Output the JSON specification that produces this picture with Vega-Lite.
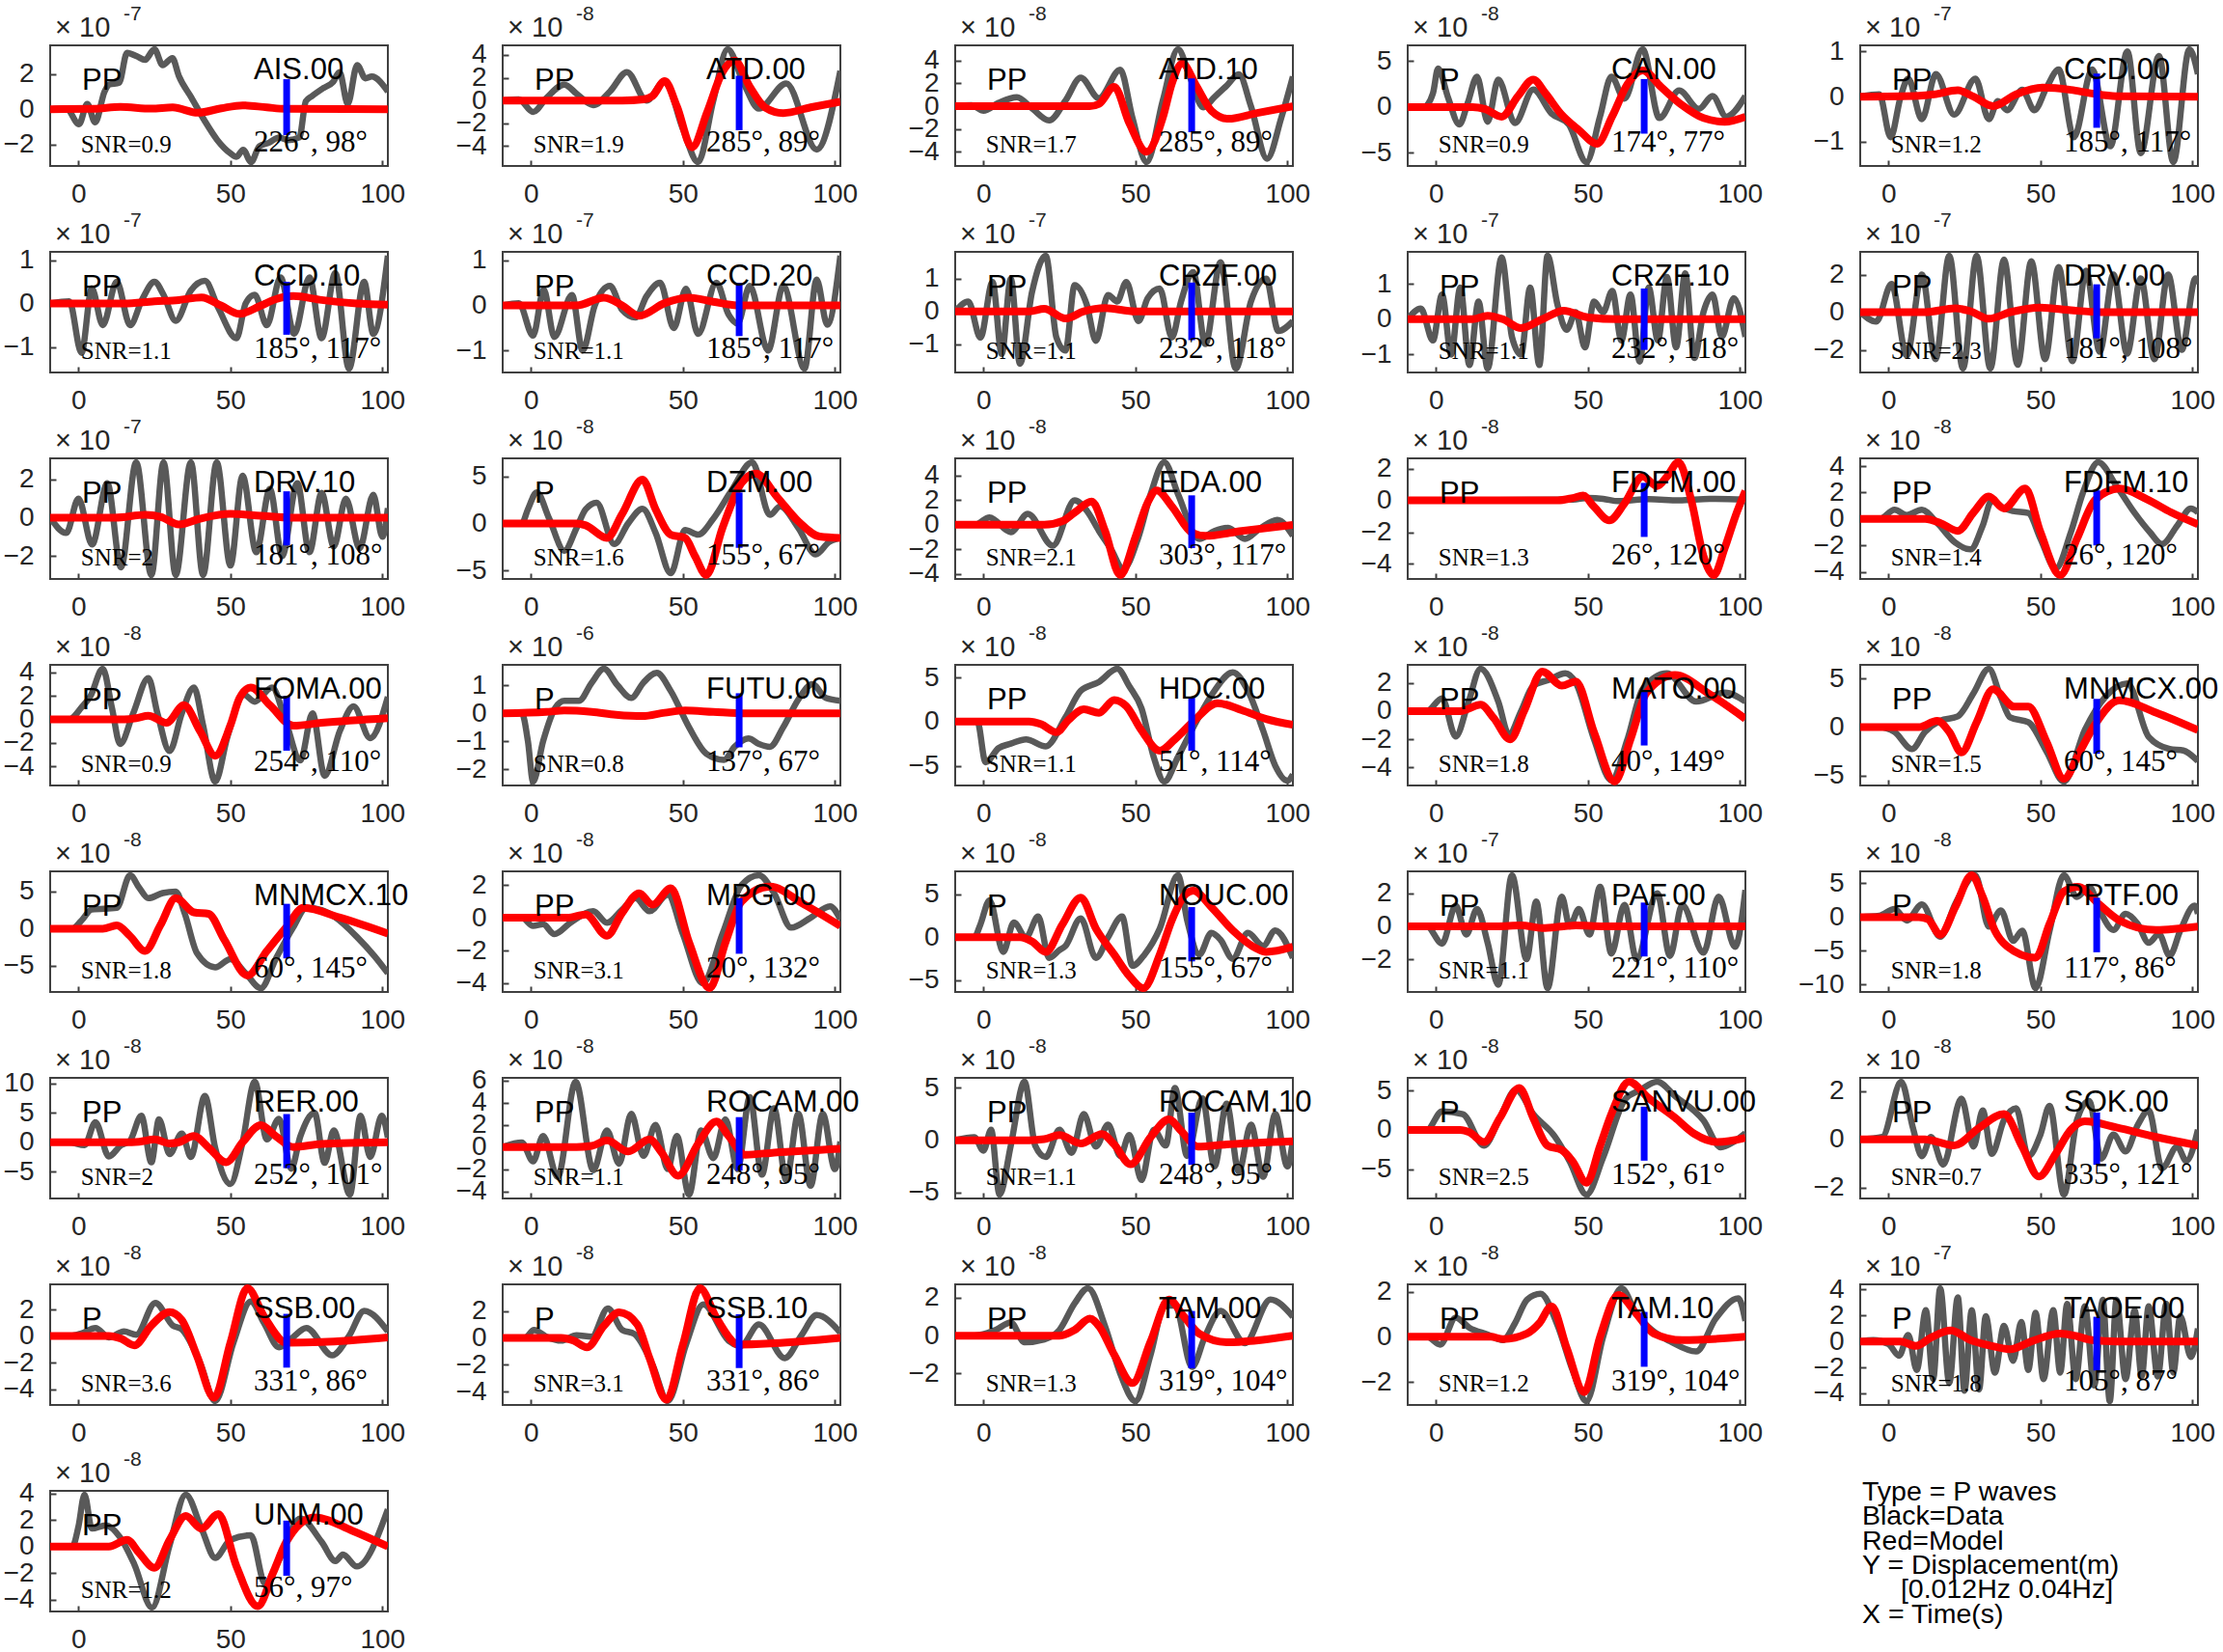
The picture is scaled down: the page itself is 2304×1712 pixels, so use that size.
{
"$schema": "https://vega.github.io/schema/vega-lite/v6.json",
"padding": {"left": 2, "top": 3, "right": 0, "bottom": 0},
"datasets": {"all": [
{"s":"AIS.00","ph":"PP","snr":"SNR=0.9","ang":"226°, 98°","e":"-7","lo":-1.47,"hi":1.7},
{"s":"AIS.00","t":-9.3,"d":0},{"s":"AIS.00","t":-4,"d":0.05},{"s":"AIS.00","t":0.2,"d":-0.85},{"s":"AIS.00","t":2.9,"d":0.3},{"s":"AIS.00","t":5.5,"d":-0.75},{"s":"AIS.00","t":8.6,"d":1.0},{"s":"AIS.00","t":10.2,"d":1.4},{"s":"AIS.00","t":13.4,"d":1.5},{"s":"AIS.00","t":16,"d":3.2},{"s":"AIS.00","t":19.2,"d":3.0},{"s":"AIS.00","t":21.9,"d":2.8},{"s":"AIS.00","t":25,"d":3.4},{"s":"AIS.00","t":27.7,"d":2.5},{"s":"AIS.00","t":30.9,"d":2.9},{"s":"AIS.00","t":33,"d":1.9},{"s":"AIS.00","t":37.2,"d":0.65},{"s":"AIS.00","t":41.5,"d":-0.65},{"s":"AIS.00","t":45.7,"d":-1.75},{"s":"AIS.00","t":50,"d":-2.5},{"s":"AIS.00","t":52,"d":-2.7},{"s":"AIS.00","t":54.2,"d":-2.3},{"s":"AIS.00","t":56.8,"d":-3.0},{"s":"AIS.00","t":59.5,"d":-2.1},{"s":"AIS.00","t":62.7,"d":-1.9},{"s":"AIS.00","t":66,"d":-1.6},{"s":"AIS.00","t":69,"d":-1.75},{"s":"AIS.00","t":72.7,"d":-1.6},{"s":"AIS.00","t":74.8,"d":0.45},{"s":"AIS.00","t":76.9,"d":0.75},{"s":"AIS.00","t":80.6,"d":1.2},{"s":"AIS.00","t":83.8,"d":1.55},{"s":"AIS.00","t":85.9,"d":2.1},{"s":"AIS.00","t":88.6,"d":0.3},{"s":"AIS.00","t":91.7,"d":2.5},{"s":"AIS.00","t":94.4,"d":1.75},{"s":"AIS.00","t":96.5,"d":1.85},{"s":"AIS.00","t":101.8,"d":1.0},
{"s":"AIS.00","t":-9.3,"m":0},{"s":"AIS.00","t":5,"m":0.02},{"s":"AIS.00","t":13.8,"m":0.13},{"s":"AIS.00","t":24,"m":0.03},{"s":"AIS.00","t":31,"m":0.1},{"s":"AIS.00","t":39.3,"m":-0.2},{"s":"AIS.00","t":47,"m":0.05},{"s":"AIS.00","t":54,"m":0.22},{"s":"AIS.00","t":62,"m":0.1},{"s":"AIS.00","t":68,"m":0.02},{"s":"AIS.00","t":101.8,"m":0},

{"s":"ATD.00","ph":"PP","snr":"SNR=1.9","ang":"285°, 89°","e":"-8","lo":-2.6,"hi":2.17},
{"s":"ATD.00","t":-9.3,"d":0},{"s":"ATD.00","t":-4,"d":0.1},{"s":"ATD.00","t":0.7,"d":-1.0},{"s":"ATD.00","t":5,"d":0.2},{"s":"ATD.00","t":11,"d":1.4},{"s":"ATD.00","t":15,"d":0.6},{"s":"ATD.00","t":20.5,"d":-0.4},{"s":"ATD.00","t":26,"d":0.8},{"s":"ATD.00","t":31.6,"d":2.5},{"s":"ATD.00","t":38,"d":0},{"s":"ATD.00","t":44,"d":1.7},{"s":"ATD.00","t":50,"d":-2.5},{"s":"ATD.00","t":55,"d":-5.4},{"s":"ATD.00","t":60,"d":0},{"s":"ATD.00","t":64.7,"d":4.5},{"s":"ATD.00","t":70,"d":1.5},{"s":"ATD.00","t":75,"d":-0.7},{"s":"ATD.00","t":84,"d":1.5},{"s":"ATD.00","t":94,"d":-4.3},{"s":"ATD.00","t":101.8,"d":2.6},
{"s":"ATD.00","t":-9.3,"m":0},{"s":"ATD.00","t":30,"m":0},{"s":"ATD.00","t":37,"m":0.1},{"s":"ATD.00","t":40,"m":0.4},{"s":"ATD.00","t":44,"m":1.7},{"s":"ATD.00","t":48,"m":-0.5},{"s":"ATD.00","t":53,"m":-4.1},{"s":"ATD.00","t":58,"m":-1.0},{"s":"ATD.00","t":63,"m":2.5},{"s":"ATD.00","t":67,"m":3.5},{"s":"ATD.00","t":72,"m":1.2},{"s":"ATD.00","t":77,"m":-0.6},{"s":"ATD.00","t":83,"m":-1.1},{"s":"ATD.00","t":92,"m":-0.6},{"s":"ATD.00","t":101.8,"m":-0.1},

{"s":"ATD.10","ph":"PP","snr":"SNR=1.7","ang":"285°, 89°","e":"-8","lo":-2.28,"hi":2.44},
{"s":"ATD.10","t":-9.3,"d":0},{"s":"ATD.10","t":-4,"d":0.1},{"s":"ATD.10","t":0,"d":-0.4},{"s":"ATD.10","t":5,"d":0.3},{"s":"ATD.10","t":11,"d":0.8},{"s":"ATD.10","t":16,"d":-0.2},{"s":"ATD.10","t":21.6,"d":-1.25},{"s":"ATD.10","t":27,"d":0.5},{"s":"ATD.10","t":32,"d":2.5},{"s":"ATD.10","t":38,"d":0.7},{"s":"ATD.10","t":45,"d":3.2},{"s":"ATD.10","t":49,"d":-1.0},{"s":"ATD.10","t":53.7,"d":-4.9},{"s":"ATD.10","t":59,"d":0.5},{"s":"ATD.10","t":64,"d":5.0},{"s":"ATD.10","t":68,"d":2.5},{"s":"ATD.10","t":72.3,"d":-0.1},{"s":"ATD.10","t":76,"d":0.8},{"s":"ATD.10","t":80,"d":1.8},{"s":"ATD.10","t":84,"d":2.8},{"s":"ATD.10","t":88,"d":0},{"s":"ATD.10","t":93.3,"d":-4.6},{"s":"ATD.10","t":98,"d":-1.0},{"s":"ATD.10","t":101.8,"d":2.6},
{"s":"ATD.10","t":-9.3,"m":0},{"s":"ATD.10","t":35,"m":0},{"s":"ATD.10","t":38,"m":0.2},{"s":"ATD.10","t":43,"m":1.7},{"s":"ATD.10","t":48,"m":-1.5},{"s":"ATD.10","t":53.7,"m":-4.0},{"s":"ATD.10","t":59,"m":-1.0},{"s":"ATD.10","t":62,"m":2.0},{"s":"ATD.10","t":65.4,"m":3.75},{"s":"ATD.10","t":70,"m":1.8},{"s":"ATD.10","t":75,"m":-0.4},{"s":"ATD.10","t":80.5,"m":-1.1},{"s":"ATD.10","t":90,"m":-0.6},{"s":"ATD.10","t":101.8,"m":0},

{"s":"CAN.00","ph":"P","snr":"SNR=0.9","ang":"174°, 77°","e":"-8","lo":-2.9,"hi":3.05},
{"s":"CAN.00","t":-9.3,"d":0},{"s":"CAN.00","t":-4,"d":0},{"s":"CAN.00","t":-1,"d":1.5},{"s":"CAN.00","t":0.7,"d":4.2},{"s":"CAN.00","t":4,"d":1.0},{"s":"CAN.00","t":7.7,"d":-1.9},{"s":"CAN.00","t":10.5,"d":0.5},{"s":"CAN.00","t":13.5,"d":3.3},{"s":"CAN.00","t":17,"d":-1.6},{"s":"CAN.00","t":20.5,"d":3.0},{"s":"CAN.00","t":26,"d":-1.75},{"s":"CAN.00","t":32,"d":1.9},{"s":"CAN.00","t":38,"d":-0.7},{"s":"CAN.00","t":43.7,"d":-1.9},{"s":"CAN.00","t":49.5,"d":-6.0},{"s":"CAN.00","t":54,"d":-1.0},{"s":"CAN.00","t":57.7,"d":3.3},{"s":"CAN.00","t":62,"d":0.9},{"s":"CAN.00","t":68,"d":6.3},{"s":"CAN.00","t":73.5,"d":-1.2},{"s":"CAN.00","t":80,"d":1.8},{"s":"CAN.00","t":86.5,"d":-0.2},{"s":"CAN.00","t":91,"d":1.2},{"s":"CAN.00","t":95.5,"d":-1.05},{"s":"CAN.00","t":101.8,"d":1.2},
{"s":"CAN.00","t":-9.3,"m":0},{"s":"CAN.00","t":12,"m":0},{"s":"CAN.00","t":16,"m":-0.2},{"s":"CAN.00","t":21.6,"m":-1.05},{"s":"CAN.00","t":27,"m":1.2},{"s":"CAN.00","t":32,"m":3.0},{"s":"CAN.00","t":36,"m":1.5},{"s":"CAN.00","t":41,"m":-0.7},{"s":"CAN.00","t":47,"m":-2.5},{"s":"CAN.00","t":53,"m":-4.0},{"s":"CAN.00","t":58,"m":-1.0},{"s":"CAN.00","t":63,"m":2.5},{"s":"CAN.00","t":68,"m":4.0},{"s":"CAN.00","t":74,"m":2.2},{"s":"CAN.00","t":81,"m":0.2},{"s":"CAN.00","t":88,"m":-1.2},{"s":"CAN.00","t":95,"m":-1.6},{"s":"CAN.00","t":101.8,"m":-1.05},

{"s":"CCD.00","ph":"PP","snr":"SNR=1.2","ang":"185°, 117°","e":"-7","lo":-0.69,"hi":0.51},
{"s":"CCD.00","t":-9.3,"d":0},{"s":"CCD.00","t":-3,"d":0.05},{"s":"CCD.00","t":0.7,"d":-0.9},{"s":"CCD.00","t":4,"d":0},{"s":"CCD.00","t":6.5,"d":0.4},{"s":"CCD.00","t":11,"d":-0.5},{"s":"CCD.00","t":15.6,"d":0.5},{"s":"CCD.00","t":21.6,"d":-0.4},{"s":"CCD.00","t":28.6,"d":0.4},{"s":"CCD.00","t":33,"d":-0.5},{"s":"CCD.00","t":36,"d":-0.1},{"s":"CCD.00","t":39,"d":-0.3},{"s":"CCD.00","t":44,"d":0.15},{"s":"CCD.00","t":48,"d":-0.3},{"s":"CCD.00","t":52,"d":0.2},{"s":"CCD.00","t":56,"d":0.6},{"s":"CCD.00","t":61,"d":-0.9},{"s":"CCD.00","t":67,"d":0.6},{"s":"CCD.00","t":73,"d":-1.1},{"s":"CCD.00","t":78.6,"d":1.0},{"s":"CCD.00","t":83,"d":-1.25},{"s":"CCD.00","t":89,"d":0.9},{"s":"CCD.00","t":93.7,"d":-1.45},{"s":"CCD.00","t":99,"d":1.05},{"s":"CCD.00","t":101.8,"d":0.5},
{"s":"CCD.00","t":-9.3,"m":0},{"s":"CCD.00","t":10,"m":0.02},{"s":"CCD.00","t":15,"m":0.05},{"s":"CCD.00","t":22.8,"m":0.14},{"s":"CCD.00","t":28,"m":0},{"s":"CCD.00","t":34.4,"m":-0.21},{"s":"CCD.00","t":42,"m":0.05},{"s":"CCD.00","t":50.7,"m":0.2},{"s":"CCD.00","t":60,"m":0.15},{"s":"CCD.00","t":67,"m":0.07},{"s":"CCD.00","t":75,"m":0.01},{"s":"CCD.00","t":101.8,"m":0},

{"s":"CCD.10","ph":"PP","snr":"SNR=1.1","ang":"185°, 117°","e":"-7","lo":-0.72,"hi":0.5},
{"s":"CCD.10","t":-9.3,"d":0},{"s":"CCD.10","t":-3,"d":0.05},{"s":"CCD.10","t":1,"d":-1.14},{"s":"CCD.10","t":4.4,"d":0.35},{"s":"CCD.10","t":8,"d":-0.5},{"s":"CCD.10","t":12.6,"d":0.5},{"s":"CCD.10","t":17,"d":-0.5},{"s":"CCD.10","t":21,"d":0.1},{"s":"CCD.10","t":25,"d":0.5},{"s":"CCD.10","t":28,"d":0.2},{"s":"CCD.10","t":32,"d":-0.4},{"s":"CCD.10","t":37,"d":0.3},{"s":"CCD.10","t":41.6,"d":0.52},{"s":"CCD.10","t":46,"d":-0.1},{"s":"CCD.10","t":52,"d":-0.8},{"s":"CCD.10","t":55,"d":0},{"s":"CCD.10","t":58,"d":0.2},{"s":"CCD.10","t":62,"d":-0.5},{"s":"CCD.10","t":66.5,"d":0.6},{"s":"CCD.10","t":71,"d":-0.7},{"s":"CCD.10","t":76,"d":0.6},{"s":"CCD.10","t":80,"d":-0.8},{"s":"CCD.10","t":84.5,"d":0.7},{"s":"CCD.10","t":89,"d":-1.5},{"s":"CCD.10","t":94,"d":0.5},{"s":"CCD.10","t":97,"d":-0.7},{"s":"CCD.10","t":101.8,"d":1.1},
{"s":"CCD.10","t":-9.3,"m":0},{"s":"CCD.10","t":15,"m":0},{"s":"CCD.10","t":25,"m":0.05},{"s":"CCD.10","t":33,"m":0.08},{"s":"CCD.10","t":40.5,"m":0.14},{"s":"CCD.10","t":47,"m":-0.05},{"s":"CCD.10","t":53,"m":-0.24},{"s":"CCD.10","t":60,"m":-0.05},{"s":"CCD.10","t":65,"m":0.1},{"s":"CCD.10","t":70.7,"m":0.17},{"s":"CCD.10","t":80,"m":0.08},{"s":"CCD.10","t":91.6,"m":0},{"s":"CCD.10","t":101.8,"m":-0.03},

{"s":"CCD.20","ph":"PP","snr":"SNR=1.1","ang":"185°, 117°","e":"-7","lo":-0.68,"hi":0.5},
{"s":"CCD.20","t":-9.3,"d":0},{"s":"CCD.20","t":-4,"d":0.05},{"s":"CCD.20","t":0.7,"d":-0.67},{"s":"CCD.20","t":4.2,"d":0.35},{"s":"CCD.20","t":7.7,"d":-0.7},{"s":"CCD.20","t":13.5,"d":0.23},{"s":"CCD.20","t":17,"d":-1.0},{"s":"CCD.20","t":21,"d":0},{"s":"CCD.20","t":26,"d":0.43},{"s":"CCD.20","t":30,"d":-0.1},{"s":"CCD.20","t":34.4,"d":-0.27},{"s":"CCD.20","t":38,"d":0.2},{"s":"CCD.20","t":42.5,"d":0.5},{"s":"CCD.20","t":47,"d":-0.5},{"s":"CCD.20","t":51,"d":0.37},{"s":"CCD.20","t":55,"d":-0.63},{"s":"CCD.20","t":61,"d":0.5},{"s":"CCD.20","t":65,"d":-0.2},{"s":"CCD.20","t":68,"d":-0.4},{"s":"CCD.20","t":72,"d":0.43},{"s":"CCD.20","t":78,"d":-1.0},{"s":"CCD.20","t":83,"d":0.43},{"s":"CCD.20","t":90,"d":-1.4},{"s":"CCD.20","t":94,"d":0.57},{"s":"CCD.20","t":97.5,"d":-0.43},{"s":"CCD.20","t":101.8,"d":1.1},
{"s":"CCD.20","t":-9.3,"m":0},{"s":"CCD.20","t":15,"m":0},{"s":"CCD.20","t":24,"m":0.17},{"s":"CCD.20","t":30,"m":0},{"s":"CCD.20","t":35.6,"m":-0.23},{"s":"CCD.20","t":44,"m":0.05},{"s":"CCD.20","t":52,"m":0.17},{"s":"CCD.20","t":60,"m":0.08},{"s":"CCD.20","t":68,"m":0},{"s":"CCD.20","t":101.8,"m":0},

{"s":"CRZF.00","ph":"PP","snr":"SNR=1.1","ang":"232°, 118°","e":"-7","lo":-0.88,"hi":0.88},
{"s":"CRZF.00","t":-9.3,"d":0},{"s":"CRZF.00","t":-5,"d":0.3},{"s":"CRZF.00","t":-1,"d":-0.8},{"s":"CRZF.00","t":3,"d":0.9},{"s":"CRZF.00","t":6,"d":-1.3},{"s":"CRZF.00","t":9,"d":1.0},{"s":"CRZF.00","t":12,"d":-1.6},{"s":"CRZF.00","t":16,"d":0.6},{"s":"CRZF.00","t":20.5,"d":1.7},{"s":"CRZF.00","t":24,"d":-0.8},{"s":"CRZF.00","t":27,"d":-1.2},{"s":"CRZF.00","t":30,"d":0.8},{"s":"CRZF.00","t":34,"d":0.2},{"s":"CRZF.00","t":37,"d":-0.9},{"s":"CRZF.00","t":41,"d":0.5},{"s":"CRZF.00","t":44,"d":0.3},{"s":"CRZF.00","t":47,"d":0.9},{"s":"CRZF.00","t":51,"d":-0.3},{"s":"CRZF.00","t":54,"d":0.4},{"s":"CRZF.00","t":58,"d":0.7},{"s":"CRZF.00","t":62,"d":-0.8},{"s":"CRZF.00","t":65,"d":0.3},{"s":"CRZF.00","t":69,"d":1.2},{"s":"CRZF.00","t":73,"d":-1.0},{"s":"CRZF.00","t":78,"d":1.5},{"s":"CRZF.00","t":83,"d":-1.75},{"s":"CRZF.00","t":88,"d":0.3},{"s":"CRZF.00","t":93,"d":1.0},{"s":"CRZF.00","t":97,"d":-0.6},{"s":"CRZF.00","t":101.8,"d":-0.3},
{"s":"CRZF.00","t":-9.3,"m":0},{"s":"CRZF.00","t":15,"m":0},{"s":"CRZF.00","t":20,"m":0.08},{"s":"CRZF.00","t":27,"m":-0.22},{"s":"CRZF.00","t":33,"m":0},{"s":"CRZF.00","t":40,"m":0.1},{"s":"CRZF.00","t":50,"m":0},{"s":"CRZF.00","t":101.8,"m":0},

{"s":"CRZF.10","ph":"PP","snr":"SNR=1.1","ang":"232°, 118°","e":"-7","lo":-0.87,"hi":0.87},
{"s":"CRZF.10","t":-9.3,"d":0},{"s":"CRZF.10","t":-5,"d":0.3},{"s":"CRZF.10","t":-1,"d":-0.6},{"s":"CRZF.10","t":2,"d":0.7},{"s":"CRZF.10","t":5,"d":-1.0},{"s":"CRZF.10","t":8,"d":0.9},{"s":"CRZF.10","t":11,"d":-1.3},{"s":"CRZF.10","t":14,"d":0.5},{"s":"CRZF.10","t":17,"d":-1.4},{"s":"CRZF.10","t":21.6,"d":1.75},{"s":"CRZF.10","t":25,"d":-0.5},{"s":"CRZF.10","t":28,"d":-1.0},{"s":"CRZF.10","t":31,"d":0.9},{"s":"CRZF.10","t":34,"d":-1.3},{"s":"CRZF.10","t":36.7,"d":1.8},{"s":"CRZF.10","t":40,"d":0.4},{"s":"CRZF.10","t":43,"d":-0.3},{"s":"CRZF.10","t":46,"d":0.2},{"s":"CRZF.10","t":49,"d":-0.8},{"s":"CRZF.10","t":52,"d":0.5},{"s":"CRZF.10","t":55,"d":0.2},{"s":"CRZF.10","t":58,"d":0.8},{"s":"CRZF.10","t":61,"d":-0.6},{"s":"CRZF.10","t":64,"d":0.7},{"s":"CRZF.10","t":67,"d":-1.2},{"s":"CRZF.10","t":70,"d":0.9},{"s":"CRZF.10","t":73,"d":-0.6},{"s":"CRZF.10","t":76,"d":1.2},{"s":"CRZF.10","t":79,"d":-0.8},{"s":"CRZF.10","t":82,"d":1.3},{"s":"CRZF.10","t":85,"d":-1.1},{"s":"CRZF.10","t":88,"d":0.2},{"s":"CRZF.10","t":91,"d":0.7},{"s":"CRZF.10","t":94,"d":-0.5},{"s":"CRZF.10","t":98,"d":0.6},{"s":"CRZF.10","t":101.8,"d":-0.5},
{"s":"CRZF.10","t":-9.3,"m":0},{"s":"CRZF.10","t":12,"m":0},{"s":"CRZF.10","t":17,"m":0.1},{"s":"CRZF.10","t":22,"m":0},{"s":"CRZF.10","t":28,"m":-0.25},{"s":"CRZF.10","t":35,"m":0},{"s":"CRZF.10","t":42,"m":0.24},{"s":"CRZF.10","t":50,"m":0.05},{"s":"CRZF.10","t":60,"m":0},{"s":"CRZF.10","t":101.8,"m":0},

{"s":"DRV.00","ph":"PP","snr":"SNR=2.3","ang":"181°, 108°","e":"-7","lo":-1.39,"hi":1.48},
{"s":"DRV.00","t":-9.3,"d":0},{"s":"DRV.00","t":-4,"d":-0.5},{"s":"DRV.00","t":1,"d":1.5},{"s":"DRV.00","t":6,"d":-2.3},{"s":"DRV.00","t":11,"d":2.0},{"s":"DRV.00","t":15.5,"d":-2.5},{"s":"DRV.00","t":20,"d":3.0},{"s":"DRV.00","t":24.5,"d":-3.0},{"s":"DRV.00","t":29,"d":3.0},{"s":"DRV.00","t":33.5,"d":-3.0},{"s":"DRV.00","t":38,"d":2.8},{"s":"DRV.00","t":42.5,"d":-2.8},{"s":"DRV.00","t":47,"d":2.7},{"s":"DRV.00","t":51.5,"d":-2.5},{"s":"DRV.00","t":56,"d":2.4},{"s":"DRV.00","t":60.5,"d":-2.6},{"s":"DRV.00","t":65,"d":2.2},{"s":"DRV.00","t":69.5,"d":-2.1},{"s":"DRV.00","t":74,"d":2.0},{"s":"DRV.00","t":78.5,"d":-2.2},{"s":"DRV.00","t":83,"d":1.8},{"s":"DRV.00","t":87.5,"d":-2.5},{"s":"DRV.00","t":92,"d":2.0},{"s":"DRV.00","t":96.5,"d":-2.0},{"s":"DRV.00","t":101,"d":1.8},{"s":"DRV.00","t":101.8,"d":1.5},
{"s":"DRV.00","t":-9.3,"m":0},{"s":"DRV.00","t":12,"m":0},{"s":"DRV.00","t":22,"m":0.2},{"s":"DRV.00","t":27,"m":0.05},{"s":"DRV.00","t":33,"m":-0.35},{"s":"DRV.00","t":40,"m":0},{"s":"DRV.00","t":50,"m":0.25},{"s":"DRV.00","t":60,"m":0.1},{"s":"DRV.00","t":70,"m":0},{"s":"DRV.00","t":101.8,"m":0},

{"s":"DRV.10","ph":"PP","snr":"SNR=2","ang":"181°, 108°","e":"-7","lo":-1.45,"hi":1.38},
{"s":"DRV.10","t":-9.3,"d":0},{"s":"DRV.10","t":-4,"d":-0.8},{"s":"DRV.10","t":0,"d":1.0},{"s":"DRV.10","t":4.5,"d":-1.4},{"s":"DRV.10","t":9.5,"d":1.8},{"s":"DRV.10","t":14,"d":-2.6},{"s":"DRV.10","t":19,"d":2.9},{"s":"DRV.10","t":24,"d":-3.0},{"s":"DRV.10","t":28,"d":2.9},{"s":"DRV.10","t":32,"d":-3.0},{"s":"DRV.10","t":37,"d":2.9},{"s":"DRV.10","t":41,"d":-3.0},{"s":"DRV.10","t":45.5,"d":2.9},{"s":"DRV.10","t":50,"d":-2.5},{"s":"DRV.10","t":54,"d":2.2},{"s":"DRV.10","t":58.5,"d":-1.8},{"s":"DRV.10","t":63,"d":1.5},{"s":"DRV.10","t":67,"d":-2.0},{"s":"DRV.10","t":72,"d":1.8},{"s":"DRV.10","t":76,"d":-1.8},{"s":"DRV.10","t":80,"d":1.3},{"s":"DRV.10","t":84,"d":-1.5},{"s":"DRV.10","t":88,"d":1.0},{"s":"DRV.10","t":92.5,"d":-1.6},{"s":"DRV.10","t":97,"d":1.2},{"s":"DRV.10","t":100,"d":-1.0},{"s":"DRV.10","t":101.8,"d":0.5},
{"s":"DRV.10","t":-9.3,"m":0},{"s":"DRV.10","t":12,"m":0},{"s":"DRV.10","t":22,"m":0.15},{"s":"DRV.10","t":27,"m":0.05},{"s":"DRV.10","t":33,"m":-0.35},{"s":"DRV.10","t":40,"m":-0.05},{"s":"DRV.10","t":50,"m":0.2},{"s":"DRV.10","t":60,"m":0.1},{"s":"DRV.10","t":70,"m":0},{"s":"DRV.10","t":101.8,"m":0},

{"s":"DZM.00","ph":"P","snr":"SNR=1.6","ang":"155°, 67°","e":"-8","lo":-2.6,"hi":3.28},
{"s":"DZM.00","t":-9.3,"d":0},{"s":"DZM.00","t":-3,"d":0},{"s":"DZM.00","t":-1,"d":1.5},{"s":"DZM.00","t":1.9,"d":3.3},{"s":"DZM.00","t":6,"d":0.5},{"s":"DZM.00","t":11,"d":-2.9},{"s":"DZM.00","t":15,"d":-0.5},{"s":"DZM.00","t":18,"d":1.5},{"s":"DZM.00","t":21.6,"d":2.2},{"s":"DZM.00","t":27.4,"d":-2.2},{"s":"DZM.00","t":32,"d":0},{"s":"DZM.00","t":36.7,"d":1.55},{"s":"DZM.00","t":41,"d":-1.0},{"s":"DZM.00","t":46,"d":-5.3},{"s":"DZM.00","t":50.7,"d":-0.7},{"s":"DZM.00","t":55,"d":-1.2},{"s":"DZM.00","t":60,"d":0.5},{"s":"DZM.00","t":66,"d":3.5},{"s":"DZM.00","t":72.8,"d":6.5},{"s":"DZM.00","t":78.6,"d":0.9},{"s":"DZM.00","t":82,"d":1.8},{"s":"DZM.00","t":88,"d":-0.5},{"s":"DZM.00","t":93.7,"d":-3.3},{"s":"DZM.00","t":98,"d":-2.0},{"s":"DZM.00","t":101.8,"d":-1.5},
{"s":"DZM.00","t":-9.3,"m":0},{"s":"DZM.00","t":15,"m":0},{"s":"DZM.00","t":18,"m":-0.2},{"s":"DZM.00","t":25,"m":-1.55},{"s":"DZM.00","t":30,"m":1.0},{"s":"DZM.00","t":36.7,"m":4.65},{"s":"DZM.00","t":41,"m":1.5},{"s":"DZM.00","t":46,"m":-1.2},{"s":"DZM.00","t":50.7,"m":-1.55},{"s":"DZM.00","t":54,"m":-3.5},{"s":"DZM.00","t":57.7,"m":-5.5},{"s":"DZM.00","t":63,"m":-0.5},{"s":"DZM.00","t":69.3,"m":4.3},{"s":"DZM.00","t":74,"m":5.3},{"s":"DZM.00","t":81,"m":2.8},{"s":"DZM.00","t":88,"m":0.2},{"s":"DZM.00","t":95,"m":-1.4},{"s":"DZM.00","t":101.8,"m":-1.55},

{"s":"EDA.00","ph":"PP","snr":"SNR=2.1","ang":"303°, 117°","e":"-8","lo":-1.9,"hi":2.4},
{"s":"EDA.00","t":-9.3,"d":0},{"s":"EDA.00","t":-3,"d":0},{"s":"EDA.00","t":2,"d":0.6},{"s":"EDA.00","t":9,"d":-0.6},{"s":"EDA.00","t":14.6,"d":0.9},{"s":"EDA.00","t":22.8,"d":-1.7},{"s":"EDA.00","t":30,"d":2.0},{"s":"EDA.00","t":34,"d":1.15},{"s":"EDA.00","t":38,"d":-0.5},{"s":"EDA.00","t":42,"d":-2.0},{"s":"EDA.00","t":46,"d":-3.6},{"s":"EDA.00","t":51,"d":-1.0},{"s":"EDA.00","t":55,"d":2.5},{"s":"EDA.00","t":59.5,"d":5.1},{"s":"EDA.00","t":64,"d":2.5},{"s":"EDA.00","t":71,"d":-1.15},{"s":"EDA.00","t":76,"d":-0.5},{"s":"EDA.00","t":80.5,"d":-0.25},{"s":"EDA.00","t":86,"d":-1.15},{"s":"EDA.00","t":91,"d":-0.3},{"s":"EDA.00","t":96.7,"d":0.4},{"s":"EDA.00","t":101.8,"d":-0.9},
{"s":"EDA.00","t":-9.3,"m":0},{"s":"EDA.00","t":20,"m":0},{"s":"EDA.00","t":26,"m":0.3},{"s":"EDA.00","t":30,"m":1.0},{"s":"EDA.00","t":35.6,"m":1.9},{"s":"EDA.00","t":40,"m":-0.5},{"s":"EDA.00","t":45,"m":-4.1},{"s":"EDA.00","t":50,"m":-1.0},{"s":"EDA.00","t":54,"m":1.8},{"s":"EDA.00","t":57,"m":2.8},{"s":"EDA.00","t":62,"m":1.5},{"s":"EDA.00","t":68.6,"m":-0.65},{"s":"EDA.00","t":73,"m":-0.9},{"s":"EDA.00","t":85,"m":-0.5},{"s":"EDA.00","t":101.8,"m":0},

{"s":"FDFM.00","ph":"PP","snr":"SNR=1.3","ang":"26°, 120°","e":"-8","lo":-2.3,"hi":1.1},
{"s":"FDFM.00","t":-9.3,"d":0},{"s":"FDFM.00","t":20,"d":0.02},{"s":"FDFM.00","t":45,"d":0.05},{"s":"FDFM.00","t":50,"d":0.15},{"s":"FDFM.00","t":55,"d":0.1},{"s":"FDFM.00","t":60,"d":-0.05},{"s":"FDFM.00","t":70,"d":0.08},{"s":"FDFM.00","t":80,"d":0},{"s":"FDFM.00","t":90,"d":0.1},{"s":"FDFM.00","t":101.8,"d":0.05},
{"s":"FDFM.00","t":-9.3,"m":0},{"s":"FDFM.00","t":40,"m":0},{"s":"FDFM.00","t":45,"m":0.15},{"s":"FDFM.00","t":48.4,"m":0.3},{"s":"FDFM.00","t":52,"m":-0.4},{"s":"FDFM.00","t":57,"m":-1.26},{"s":"FDFM.00","t":62,"m":-0.2},{"s":"FDFM.00","t":68,"m":1.5},{"s":"FDFM.00","t":72.8,"m":0.9},{"s":"FDFM.00","t":76,"m":1.5},{"s":"FDFM.00","t":79.8,"m":2.4},{"s":"FDFM.00","t":84,"m":0},{"s":"FDFM.00","t":88,"m":-3.5},{"s":"FDFM.00","t":91.4,"m":-4.7},{"s":"FDFM.00","t":95,"m":-3.0},{"s":"FDFM.00","t":98.5,"m":-1.0},{"s":"FDFM.00","t":101.8,"m":0.6},

{"s":"FDFM.10","ph":"PP","snr":"SNR=1.4","ang":"26°, 120°","e":"-8","lo":-2.0,"hi":2.17},
{"s":"FDFM.10","t":-9.3,"d":0},{"s":"FDFM.10","t":-3,"d":0},{"s":"FDFM.10","t":2,"d":0.7},{"s":"FDFM.10","t":6,"d":0.3},{"s":"FDFM.10","t":11,"d":0.7},{"s":"FDFM.10","t":16,"d":-0.3},{"s":"FDFM.10","t":22,"d":-1.8},{"s":"FDFM.10","t":27,"d":-2.3},{"s":"FDFM.10","t":31,"d":-0.5},{"s":"FDFM.10","t":34,"d":1.4},{"s":"FDFM.10","t":38,"d":0.8},{"s":"FDFM.10","t":41,"d":0.6},{"s":"FDFM.10","t":46,"d":0.45},{"s":"FDFM.10","t":50,"d":-1.5},{"s":"FDFM.10","t":55,"d":-3.75},{"s":"FDFM.10","t":60,"d":-1.0},{"s":"FDFM.10","t":64,"d":2.0},{"s":"FDFM.10","t":69,"d":4.3},{"s":"FDFM.10","t":75,"d":2.5},{"s":"FDFM.10","t":81,"d":0.45},{"s":"FDFM.10","t":86,"d":-1.0},{"s":"FDFM.10","t":90,"d":-1.9},{"s":"FDFM.10","t":95,"d":-0.5},{"s":"FDFM.10","t":99.5,"d":0.8},{"s":"FDFM.10","t":101.8,"d":0.5},
{"s":"FDFM.10","t":-9.3,"m":0},{"s":"FDFM.10","t":12,"m":0},{"s":"FDFM.10","t":17,"m":-0.3},{"s":"FDFM.10","t":22.8,"m":-0.9},{"s":"FDFM.10","t":28,"m":0.5},{"s":"FDFM.10","t":33,"m":1.7},{"s":"FDFM.10","t":38,"m":0.8},{"s":"FDFM.10","t":45,"m":2.3},{"s":"FDFM.10","t":50,"m":-1.0},{"s":"FDFM.10","t":56.5,"m":-4.25},{"s":"FDFM.10","t":62,"m":-1.5},{"s":"FDFM.10","t":68,"m":1.45},{"s":"FDFM.10","t":76,"m":2.3},{"s":"FDFM.10","t":85,"m":1.5},{"s":"FDFM.10","t":93,"m":0.5},{"s":"FDFM.10","t":101.8,"m":-0.4},

{"s":"FOMA.00","ph":"PP","snr":"SNR=0.9","ang":"254°, 110°","e":"-8","lo":-2.67,"hi":2.0},
{"s":"FOMA.00","t":-9.3,"d":0},{"s":"FOMA.00","t":-3,"d":0},{"s":"FOMA.00","t":1,"d":1.0},{"s":"FOMA.00","t":4,"d":2.0},{"s":"FOMA.00","t":8,"d":4.3},{"s":"FOMA.00","t":11,"d":1.0},{"s":"FOMA.00","t":13.7,"d":-2.1},{"s":"FOMA.00","t":18,"d":0.5},{"s":"FOMA.00","t":23,"d":3.5},{"s":"FOMA.00","t":26,"d":0.5},{"s":"FOMA.00","t":30,"d":-2.7},{"s":"FOMA.00","t":34,"d":0.5},{"s":"FOMA.00","t":38,"d":2.7},{"s":"FOMA.00","t":41,"d":-0.5},{"s":"FOMA.00","t":45,"d":-5.3},{"s":"FOMA.00","t":49,"d":-1.5},{"s":"FOMA.00","t":54.4,"d":2.1},{"s":"FOMA.00","t":58,"d":1.5},{"s":"FOMA.00","t":63.7,"d":2.7},{"s":"FOMA.00","t":68,"d":0},{"s":"FOMA.00","t":73,"d":-3.5},{"s":"FOMA.00","t":77,"d":0.5},{"s":"FOMA.00","t":81,"d":-4.8},{"s":"FOMA.00","t":86,"d":-1.0},{"s":"FOMA.00","t":90.5,"d":1.1},{"s":"FOMA.00","t":96,"d":-1.6},{"s":"FOMA.00","t":101.8,"d":1.9},
{"s":"FOMA.00","t":-9.3,"m":0},{"s":"FOMA.00","t":15,"m":0},{"s":"FOMA.00","t":19,"m":0.1},{"s":"FOMA.00","t":23,"m":0.3},{"s":"FOMA.00","t":29,"m":-0.3},{"s":"FOMA.00","t":34.7,"m":1.2},{"s":"FOMA.00","t":40,"m":-1.0},{"s":"FOMA.00","t":45,"m":-3.1},{"s":"FOMA.00","t":50,"m":-0.5},{"s":"FOMA.00","t":53,"m":1.8},{"s":"FOMA.00","t":56.7,"m":2.7},{"s":"FOMA.00","t":63,"m":1.2},{"s":"FOMA.00","t":70.7,"m":-0.55},{"s":"FOMA.00","t":80,"m":-0.3},{"s":"FOMA.00","t":101.8,"m":0.1},

{"s":"FUTU.00","ph":"P","snr":"SNR=0.8","ang":"137°, 67°","e":"-6","lo":-1.22,"hi":0.72},
{"s":"FUTU.00","t":-9.3,"d":0},{"s":"FUTU.00","t":-3,"d":0},{"s":"FUTU.00","t":-1,"d":-1.0},{"s":"FUTU.00","t":0.7,"d":-2.45},{"s":"FUTU.00","t":4,"d":-1.0},{"s":"FUTU.00","t":8,"d":0.2},{"s":"FUTU.00","t":11,"d":0.45},{"s":"FUTU.00","t":15.8,"d":0.45},{"s":"FUTU.00","t":20,"d":1.1},{"s":"FUTU.00","t":24,"d":1.6},{"s":"FUTU.00","t":28.5,"d":1.0},{"s":"FUTU.00","t":33,"d":0.55},{"s":"FUTU.00","t":37,"d":1.1},{"s":"FUTU.00","t":41.4,"d":1.45},{"s":"FUTU.00","t":46,"d":0.8},{"s":"FUTU.00","t":52,"d":-0.5},{"s":"FUTU.00","t":57.7,"d":-1.45},{"s":"FUTU.00","t":63.5,"d":-1.67},{"s":"FUTU.00","t":67,"d":-1.2},{"s":"FUTU.00","t":71.6,"d":-0.9},{"s":"FUTU.00","t":75,"d":-1.1},{"s":"FUTU.00","t":78.6,"d":-1.2},{"s":"FUTU.00","t":83,"d":-0.5},{"s":"FUTU.00","t":88,"d":0.5},{"s":"FUTU.00","t":92.6,"d":1.05},{"s":"FUTU.00","t":97,"d":0.55},{"s":"FUTU.00","t":101.8,"d":0.45},
{"s":"FUTU.00","t":-9.3,"m":0},{"s":"FUTU.00","t":5,"m":0.05},{"s":"FUTU.00","t":11,"m":0.1},{"s":"FUTU.00","t":20,"m":0.05},{"s":"FUTU.00","t":28,"m":-0.05},{"s":"FUTU.00","t":36.7,"m":-0.1},{"s":"FUTU.00","t":44,"m":0.02},{"s":"FUTU.00","t":50.7,"m":0.1},{"s":"FUTU.00","t":60,"m":0.05},{"s":"FUTU.00","t":70,"m":0},{"s":"FUTU.00","t":101.8,"m":0},

{"s":"HDC.00","ph":"PP","snr":"SNR=1.1","ang":"51°, 114°","e":"-8","lo":-3.3,"hi":2.8},
{"s":"HDC.00","t":-9.3,"d":0},{"s":"HDC.00","t":-2,"d":0},{"s":"HDC.00","t":0.7,"d":-4.6},{"s":"HDC.00","t":5,"d":-3.0},{"s":"HDC.00","t":9,"d":-2.5},{"s":"HDC.00","t":14,"d":-2.0},{"s":"HDC.00","t":20.5,"d":-2.8},{"s":"HDC.00","t":27,"d":0.5},{"s":"HDC.00","t":32,"d":3.5},{"s":"HDC.00","t":38,"d":4.5},{"s":"HDC.00","t":44,"d":6.0},{"s":"HDC.00","t":48,"d":4.0},{"s":"HDC.00","t":52,"d":1.5},{"s":"HDC.00","t":56,"d":-4.0},{"s":"HDC.00","t":59.5,"d":-6.8},{"s":"HDC.00","t":64,"d":-4.0},{"s":"HDC.00","t":70,"d":0},{"s":"HDC.00","t":76,"d":3.5},{"s":"HDC.00","t":82,"d":5.6},{"s":"HDC.00","t":87,"d":3.5},{"s":"HDC.00","t":92,"d":-1.0},{"s":"HDC.00","t":96,"d":-5.0},{"s":"HDC.00","t":100,"d":-6.7},{"s":"HDC.00","t":101.8,"d":-6.0},
{"s":"HDC.00","t":-9.3,"m":0},{"s":"HDC.00","t":15,"m":0},{"s":"HDC.00","t":19,"m":-0.3},{"s":"HDC.00","t":24,"m":-1.2},{"s":"HDC.00","t":28,"m":0.2},{"s":"HDC.00","t":33,"m":1.4},{"s":"HDC.00","t":38,"m":1.0},{"s":"HDC.00","t":43,"m":2.45},{"s":"HDC.00","t":47,"m":1.75},{"s":"HDC.00","t":52,"m":-1.0},{"s":"HDC.00","t":58,"m":-3.3},{"s":"HDC.00","t":63,"m":-2.0},{"s":"HDC.00","t":69,"m":0},{"s":"HDC.00","t":77,"m":2.1},{"s":"HDC.00","t":85,"m":1.3},{"s":"HDC.00","t":93,"m":0.3},{"s":"HDC.00","t":101.8,"m":-0.35},

{"s":"MATO.00","ph":"PP","snr":"SNR=1.8","ang":"40°, 149°","e":"-8","lo":-2.44,"hi":1.38},
{"s":"MATO.00","t":-9.3,"d":0},{"s":"MATO.00","t":-3,"d":0},{"s":"MATO.00","t":2,"d":0.9},{"s":"MATO.00","t":6.5,"d":-1.8},{"s":"MATO.00","t":10.5,"d":0.5},{"s":"MATO.00","t":14.7,"d":3.0},{"s":"MATO.00","t":20.5,"d":0.67},{"s":"MATO.00","t":24,"d":-1.67},{"s":"MATO.00","t":28,"d":0},{"s":"MATO.00","t":32,"d":1.8},{"s":"MATO.00","t":37,"d":2.2},{"s":"MATO.00","t":42.6,"d":2.67},{"s":"MATO.00","t":46,"d":2.0},{"s":"MATO.00","t":52,"d":-2.0},{"s":"MATO.00","t":57.7,"d":-4.9},{"s":"MATO.00","t":63,"d":-2.0},{"s":"MATO.00","t":68,"d":1.55},{"s":"MATO.00","t":76,"d":2.67},{"s":"MATO.00","t":85.6,"d":0.67},{"s":"MATO.00","t":95,"d":1.3},{"s":"MATO.00","t":101.8,"d":0.67},
{"s":"MATO.00","t":-9.3,"m":0},{"s":"MATO.00","t":8,"m":0},{"s":"MATO.00","t":14.7,"m":0.45},{"s":"MATO.00","t":19,"m":-0.5},{"s":"MATO.00","t":24.4,"m":-2.0},{"s":"MATO.00","t":29,"m":0},{"s":"MATO.00","t":35,"m":2.8},{"s":"MATO.00","t":41.4,"m":1.8},{"s":"MATO.00","t":46,"m":2.1},{"s":"MATO.00","t":52,"m":-1.5},{"s":"MATO.00","t":58.8,"m":-5.0},{"s":"MATO.00","t":64,"m":-2.0},{"s":"MATO.00","t":69.3,"m":1.3},{"s":"MATO.00","t":78.6,"m":2.55},{"s":"MATO.00","t":90,"m":1.2},{"s":"MATO.00","t":101.8,"m":-0.55},

{"s":"MNMCX.00","ph":"PP","snr":"SNR=1.5","ang":"60°, 145°","e":"-8","lo":-2.74,"hi":2.9},
{"s":"MNMCX.00","t":-9.3,"d":0},{"s":"MNMCX.00","t":-3,"d":0},{"s":"MNMCX.00","t":2,"d":-0.5},{"s":"MNMCX.00","t":7.7,"d":-2.25},{"s":"MNMCX.00","t":12,"d":-0.5},{"s":"MNMCX.00","t":17,"d":0.65},{"s":"MNMCX.00","t":22.8,"d":1.1},{"s":"MNMCX.00","t":28,"d":3.5},{"s":"MNMCX.00","t":33,"d":6.0},{"s":"MNMCX.00","t":37,"d":3.0},{"s":"MNMCX.00","t":40,"d":1.0},{"s":"MNMCX.00","t":46,"d":0.5},{"s":"MNMCX.00","t":52,"d":-2.5},{"s":"MNMCX.00","t":57.7,"d":-5.6},{"s":"MNMCX.00","t":64.6,"d":-0.3},{"s":"MNMCX.00","t":71.6,"d":3.2},{"s":"MNMCX.00","t":78.6,"d":4.5},{"s":"MNMCX.00","t":85.6,"d":-1.0},{"s":"MNMCX.00","t":92.5,"d":-2.25},{"s":"MNMCX.00","t":97,"d":-2.4},{"s":"MNMCX.00","t":101.8,"d":-3.5},
{"s":"MNMCX.00","t":-9.3,"m":0},{"s":"MNMCX.00","t":10,"m":0},{"s":"MNMCX.00","t":16,"m":0.65},{"s":"MNMCX.00","t":20,"m":-0.5},{"s":"MNMCX.00","t":24,"m":-2.6},{"s":"MNMCX.00","t":29,"m":0.5},{"s":"MNMCX.00","t":34.4,"m":3.9},{"s":"MNMCX.00","t":41.4,"m":2.1},{"s":"MNMCX.00","t":46,"m":2.1},{"s":"MNMCX.00","t":52,"m":-1.5},{"s":"MNMCX.00","t":57.7,"m":-5.3},{"s":"MNMCX.00","t":63,"m":-2.5},{"s":"MNMCX.00","t":68,"m":0.3},{"s":"MNMCX.00","t":76,"m":2.75},{"s":"MNMCX.00","t":88,"m":1.5},{"s":"MNMCX.00","t":101.8,"m":-0.3},

{"s":"MNMCX.10","ph":"PP","snr":"SNR=1.8","ang":"60°, 145°","e":"-8","lo":-4.0,"hi":3.35},
{"s":"MNMCX.10","t":-9.3,"d":0},{"s":"MNMCX.10","t":-2,"d":0},{"s":"MNMCX.10","t":1,"d":1.1},{"s":"MNMCX.10","t":4.4,"d":2.6},{"s":"MNMCX.10","t":12.6,"d":2.8},{"s":"MNMCX.10","t":17,"d":7.2},{"s":"MNMCX.10","t":20,"d":5.5},{"s":"MNMCX.10","t":23,"d":4.1},{"s":"MNMCX.10","t":27.7,"d":4.8},{"s":"MNMCX.10","t":32,"d":5.0},{"s":"MNMCX.10","t":35,"d":2.0},{"s":"MNMCX.10","t":39,"d":-3.3},{"s":"MNMCX.10","t":45,"d":-5.2},{"s":"MNMCX.10","t":50,"d":-4.1},{"s":"MNMCX.10","t":55,"d":-6.0},{"s":"MNMCX.10","t":60,"d":-8.0},{"s":"MNMCX.10","t":65,"d":-4.0},{"s":"MNMCX.10","t":70.7,"d":0.2},{"s":"MNMCX.10","t":75,"d":2.8},{"s":"MNMCX.10","t":80,"d":2.5},{"s":"MNMCX.10","t":84.6,"d":1.5},{"s":"MNMCX.10","t":91.6,"d":-1.1},{"s":"MNMCX.10","t":97.4,"d":-3.7},{"s":"MNMCX.10","t":101.8,"d":-6.0},
{"s":"MNMCX.10","t":-9.3,"m":0},{"s":"MNMCX.10","t":8,"m":0},{"s":"MNMCX.10","t":12.6,"m":0.45},{"s":"MNMCX.10","t":17,"m":-1.0},{"s":"MNMCX.10","t":21.9,"m":-3.0},{"s":"MNMCX.10","t":27,"m":0.5},{"s":"MNMCX.10","t":32,"m":4.1},{"s":"MNMCX.10","t":38,"m":2.2},{"s":"MNMCX.10","t":42.8,"m":2.0},{"s":"MNMCX.10","t":48,"m":-1.5},{"s":"MNMCX.10","t":55.6,"m":-6.3},{"s":"MNMCX.10","t":62,"m":-3.0},{"s":"MNMCX.10","t":68.4,"m":0.2},{"s":"MNMCX.10","t":74,"m":2.8},{"s":"MNMCX.10","t":86,"m":1.5},{"s":"MNMCX.10","t":101.8,"m":-0.65},

{"s":"MPG.00","ph":"PP","snr":"SNR=3.1","ang":"20°, 132°","e":"-8","lo":-2.2,"hi":1.2},
{"s":"MPG.00","t":-9.3,"d":0},{"s":"MPG.00","t":-3,"d":0},{"s":"MPG.00","t":0.7,"d":-0.5},{"s":"MPG.00","t":4,"d":-0.4},{"s":"MPG.00","t":7.7,"d":-1.0},{"s":"MPG.00","t":13,"d":-0.3},{"s":"MPG.00","t":20.5,"d":0.4},{"s":"MPG.00","t":25,"d":-0.3},{"s":"MPG.00","t":30,"d":0.5},{"s":"MPG.00","t":34.4,"d":1.2},{"s":"MPG.00","t":39,"d":0.4},{"s":"MPG.00","t":45,"d":1.4},{"s":"MPG.00","t":50,"d":-1.0},{"s":"MPG.00","t":56.5,"d":-4.0},{"s":"MPG.00","t":63,"d":-1.0},{"s":"MPG.00","t":69.3,"d":2.0},{"s":"MPG.00","t":75,"d":2.6},{"s":"MPG.00","t":80,"d":1.5},{"s":"MPG.00","t":85.6,"d":-0.6},{"s":"MPG.00","t":92,"d":0},{"s":"MPG.00","t":98.4,"d":0.7},{"s":"MPG.00","t":101.8,"d":-0.1},
{"s":"MPG.00","t":-9.3,"m":0},{"s":"MPG.00","t":12,"m":0},{"s":"MPG.00","t":18,"m":0.2},{"s":"MPG.00","t":25,"m":-1.1},{"s":"MPG.00","t":30,"m":0.3},{"s":"MPG.00","t":35.6,"m":1.5},{"s":"MPG.00","t":40,"m":0.8},{"s":"MPG.00","t":46,"m":1.8},{"s":"MPG.00","t":52,"m":-1.5},{"s":"MPG.00","t":58.8,"m":-4.3},{"s":"MPG.00","t":64,"m":-1.5},{"s":"MPG.00","t":69.3,"m":1.0},{"s":"MPG.00","t":78.6,"m":1.9},{"s":"MPG.00","t":90,"m":0.8},{"s":"MPG.00","t":101.8,"m":-0.5},

{"s":"NOUC.00","ph":"P","snr":"SNR=1.3","ang":"155°, 67°","e":"-8","lo":-2.8,"hi":3.5},
{"s":"NOUC.00","t":-9.3,"d":0},{"s":"NOUC.00","t":-3,"d":0},{"s":"NOUC.00","t":-1,"d":1.5},{"s":"NOUC.00","t":2,"d":4.3},{"s":"NOUC.00","t":6.5,"d":-1.7},{"s":"NOUC.00","t":10,"d":1.7},{"s":"NOUC.00","t":14,"d":0},{"s":"NOUC.00","t":18,"d":2.4},{"s":"NOUC.00","t":21.6,"d":-2.4},{"s":"NOUC.00","t":25,"d":-1.5},{"s":"NOUC.00","t":27,"d":-1.0},{"s":"NOUC.00","t":32,"d":2.2},{"s":"NOUC.00","t":37,"d":-2.4},{"s":"NOUC.00","t":41,"d":0},{"s":"NOUC.00","t":45.6,"d":2.4},{"s":"NOUC.00","t":49,"d":-3.3},{"s":"NOUC.00","t":53,"d":-2.0},{"s":"NOUC.00","t":58,"d":1.0},{"s":"NOUC.00","t":64,"d":7.2},{"s":"NOUC.00","t":67,"d":2.0},{"s":"NOUC.00","t":71,"d":-2.0},{"s":"NOUC.00","t":75,"d":0.5},{"s":"NOUC.00","t":78,"d":-0.3},{"s":"NOUC.00","t":82,"d":-2.5},{"s":"NOUC.00","t":87,"d":0.5},{"s":"NOUC.00","t":92,"d":-1.0},{"s":"NOUC.00","t":96,"d":0.8},{"s":"NOUC.00","t":101.8,"d":-2.4},
{"s":"NOUC.00","t":-9.3,"m":0},{"s":"NOUC.00","t":12,"m":0},{"s":"NOUC.00","t":16,"m":-0.5},{"s":"NOUC.00","t":20.5,"m":-1.7},{"s":"NOUC.00","t":26,"m":1.5},{"s":"NOUC.00","t":32,"m":4.6},{"s":"NOUC.00","t":37,"m":1.0},{"s":"NOUC.00","t":43,"m":-2.0},{"s":"NOUC.00","t":48,"m":-4.5},{"s":"NOUC.00","t":52.6,"m":-5.9},{"s":"NOUC.00","t":58,"m":-2.0},{"s":"NOUC.00","t":62,"m":2.0},{"s":"NOUC.00","t":66.5,"m":5.0},{"s":"NOUC.00","t":69,"m":5.4},{"s":"NOUC.00","t":75,"m":3.5},{"s":"NOUC.00","t":82,"m":0.8},{"s":"NOUC.00","t":89.8,"m":-1.3},{"s":"NOUC.00","t":93,"m":-1.7},{"s":"NOUC.00","t":101.8,"m":-1.1},

{"s":"PAF.00","ph":"PP","snr":"SNR=1.1","ang":"221°, 110°","e":"-7","lo":-1.83,"hi":1.44},
{"s":"PAF.00","t":-9.3,"d":0},{"s":"PAF.00","t":-3,"d":0},{"s":"PAF.00","t":2,"d":-1.05},{"s":"PAF.00","t":6.5,"d":1.25},{"s":"PAF.00","t":10,"d":-0.5},{"s":"PAF.00","t":13.5,"d":1.05},{"s":"PAF.00","t":17,"d":-1.0},{"s":"PAF.00","t":20.5,"d":-3.55},{"s":"PAF.00","t":25,"d":3.1},{"s":"PAF.00","t":29.8,"d":-2.0},{"s":"PAF.00","t":33,"d":1.5},{"s":"PAF.00","t":36.7,"d":-3.75},{"s":"PAF.00","t":41.4,"d":1.8},{"s":"PAF.00","t":44,"d":0},{"s":"PAF.00","t":47,"d":1.05},{"s":"PAF.00","t":50.5,"d":-0.5},{"s":"PAF.00","t":54,"d":2.4},{"s":"PAF.00","t":57.7,"d":-1.65},{"s":"PAF.00","t":62,"d":1.3},{"s":"PAF.00","t":66,"d":-2.0},{"s":"PAF.00","t":72.8,"d":2.0},{"s":"PAF.00","t":77,"d":-1.8},{"s":"PAF.00","t":81,"d":1.3},{"s":"PAF.00","t":88,"d":-1.6},{"s":"PAF.00","t":93,"d":1.8},{"s":"PAF.00","t":98.4,"d":-1.25},{"s":"PAF.00","t":101.8,"d":2.2},
{"s":"PAF.00","t":-9.3,"m":0},{"s":"PAF.00","t":20,"m":0},{"s":"PAF.00","t":28,"m":0.05},{"s":"PAF.00","t":35,"m":-0.1},{"s":"PAF.00","t":42,"m":0},{"s":"PAF.00","t":46,"m":0.05},{"s":"PAF.00","t":55,"m":0},{"s":"PAF.00","t":101.8,"m":0},

{"s":"PPTF.00","ph":"P","snr":"SNR=1.8","ang":"117°, 86°","e":"-8","lo":-5.2,"hi":2.86},
{"s":"PPTF.00","t":-9.3,"d":0},{"s":"PPTF.00","t":-3,"d":0.2},{"s":"PPTF.00","t":2,"d":1.2},{"s":"PPTF.00","t":6,"d":-0.5},{"s":"PPTF.00","t":11,"d":1.9},{"s":"PPTF.00","t":17,"d":-2.9},{"s":"PPTF.00","t":22,"d":2.0},{"s":"PPTF.00","t":28.6,"d":6.2},{"s":"PPTF.00","t":33,"d":-1.4},{"s":"PPTF.00","t":37,"d":1.0},{"s":"PPTF.00","t":41,"d":-3.5},{"s":"PPTF.00","t":44,"d":-2.0},{"s":"PPTF.00","t":48.4,"d":-10.5},{"s":"PPTF.00","t":53,"d":-2},{"s":"PPTF.00","t":57.7,"d":6.2},{"s":"PPTF.00","t":62,"d":3.0},{"s":"PPTF.00","t":66,"d":4.5},{"s":"PPTF.00","t":70,"d":0.5},{"s":"PPTF.00","t":74,"d":-1.9},{"s":"PPTF.00","t":78,"d":0.5},{"s":"PPTF.00","t":82,"d":-1.0},{"s":"PPTF.00","t":85.6,"d":-3.8},{"s":"PPTF.00","t":89,"d":-2.5},{"s":"PPTF.00","t":92.5,"d":-5.7},{"s":"PPTF.00","t":96,"d":-2.0},{"s":"PPTF.00","t":100.7,"d":1.7},{"s":"PPTF.00","t":101.8,"d":0.5},
{"s":"PPTF.00","t":-9.3,"m":0},{"s":"PPTF.00","t":10,"m":0},{"s":"PPTF.00","t":13,"m":-0.3},{"s":"PPTF.00","t":17,"m":-2.6},{"s":"PPTF.00","t":22,"m":1.5},{"s":"PPTF.00","t":27.4,"m":6.2},{"s":"PPTF.00","t":31,"m":3.0},{"s":"PPTF.00","t":35,"m":-2.0},{"s":"PPTF.00","t":39,"m":-4.3},{"s":"PPTF.00","t":48.4,"m":-6.0},{"s":"PPTF.00","t":53,"m":-1.0},{"s":"PPTF.00","t":57.7,"m":3.8},{"s":"PPTF.00","t":62.3,"m":4.5},{"s":"PPTF.00","t":69,"m":2.0},{"s":"PPTF.00","t":76,"m":-0.5},{"s":"PPTF.00","t":88,"m":-1.9},{"s":"PPTF.00","t":101.8,"m":-1.4},

{"s":"RER.00","ph":"PP","snr":"SNR=2","ang":"252°, 101°","e":"-8","lo":-4.4,"hi":4.8},
{"s":"RER.00","t":-9.3,"d":0},{"s":"RER.00","t":-3,"d":0},{"s":"RER.00","t":2,"d":-0.5},{"s":"RER.00","t":5.6,"d":3.4},{"s":"RER.00","t":10,"d":-2.4},{"s":"RER.00","t":14,"d":-0.5},{"s":"RER.00","t":17,"d":0.3},{"s":"RER.00","t":20.7,"d":4.5},{"s":"RER.00","t":24,"d":-3.4},{"s":"RER.00","t":26.5,"d":3.9},{"s":"RER.00","t":30,"d":-2.0},{"s":"RER.00","t":34,"d":1.5},{"s":"RER.00","t":37,"d":-2.5},{"s":"RER.00","t":41.6,"d":7.9},{"s":"RER.00","t":45,"d":-1.0},{"s":"RER.00","t":50,"d":-7.1},{"s":"RER.00","t":54,"d":0},{"s":"RER.00","t":58,"d":10.3},{"s":"RER.00","t":62,"d":0.5},{"s":"RER.00","t":66,"d":4.0},{"s":"RER.00","t":70,"d":-4.5},{"s":"RER.00","t":73,"d":1.0},{"s":"RER.00","t":77.7,"d":5.0},{"s":"RER.00","t":81,"d":-3.5},{"s":"RER.00","t":84,"d":2.0},{"s":"RER.00","t":89.3,"d":-8.9},{"s":"RER.00","t":92.8,"d":4.5},{"s":"RER.00","t":96,"d":-2.5},{"s":"RER.00","t":99.8,"d":4.5},{"s":"RER.00","t":101.8,"d":0.8},
{"s":"RER.00","t":-9.3,"m":0},{"s":"RER.00","t":15,"m":0},{"s":"RER.00","t":20,"m":0.1},{"s":"RER.00","t":25,"m":0.5},{"s":"RER.00","t":30,"m":-0.2},{"s":"RER.00","t":33,"m":0},{"s":"RER.00","t":38,"m":1.05},{"s":"RER.00","t":43,"m":-1.0},{"s":"RER.00","t":48.6,"m":-3.4},{"s":"RER.00","t":54,"m":0},{"s":"RER.00","t":60,"m":2.9},{"s":"RER.00","t":65,"m":1.0},{"s":"RER.00","t":70.7,"m":-0.8},{"s":"RER.00","t":80,"m":-0.3},{"s":"RER.00","t":101.8,"m":0},

{"s":"ROCAM.00","ph":"PP","snr":"SNR=1.1","ang":"248°, 95°","e":"-8","lo":-2.14,"hi":2.7},
{"s":"ROCAM.00","t":-9.3,"d":0},{"s":"ROCAM.00","t":-3,"d":0.4},{"s":"ROCAM.00","t":0.7,"d":-1.3},{"s":"ROCAM.00","t":4,"d":1.0},{"s":"ROCAM.00","t":8.8,"d":-2.7},{"s":"ROCAM.00","t":14.7,"d":5.9},{"s":"ROCAM.00","t":20.5,"d":-2.1},{"s":"ROCAM.00","t":25,"d":1.5},{"s":"ROCAM.00","t":29,"d":-1.5},{"s":"ROCAM.00","t":33,"d":3.0},{"s":"ROCAM.00","t":37,"d":-0.8},{"s":"ROCAM.00","t":41,"d":2.0},{"s":"ROCAM.00","t":45,"d":-2.0},{"s":"ROCAM.00","t":48,"d":1.0},{"s":"ROCAM.00","t":52,"d":-4.3},{"s":"ROCAM.00","t":56,"d":1.5},{"s":"ROCAM.00","t":60,"d":-1.0},{"s":"ROCAM.00","t":64,"d":2.5},{"s":"ROCAM.00","t":68,"d":-2.0},{"s":"ROCAM.00","t":72,"d":4.5},{"s":"ROCAM.00","t":76,"d":-2.5},{"s":"ROCAM.00","t":80,"d":3.5},{"s":"ROCAM.00","t":84,"d":-3.0},{"s":"ROCAM.00","t":88,"d":3.0},{"s":"ROCAM.00","t":92,"d":-3.5},{"s":"ROCAM.00","t":96,"d":3.0},{"s":"ROCAM.00","t":100,"d":-2.0},{"s":"ROCAM.00","t":101.8,"d":0.5},
{"s":"ROCAM.00","t":-9.3,"m":0},{"s":"ROCAM.00","t":15,"m":0},{"s":"ROCAM.00","t":20,"m":0.1},{"s":"ROCAM.00","t":25,"m":0.6},{"s":"ROCAM.00","t":32,"m":-0.4},{"s":"ROCAM.00","t":39,"m":0.7},{"s":"ROCAM.00","t":43,"m":-0.5},{"s":"ROCAM.00","t":48.4,"m":-2.6},{"s":"ROCAM.00","t":55,"m":0.3},{"s":"ROCAM.00","t":61,"m":2.3},{"s":"ROCAM.00","t":65,"m":1.0},{"s":"ROCAM.00","t":70.5,"m":-0.7},{"s":"ROCAM.00","t":80,"m":-0.5},{"s":"ROCAM.00","t":101.8,"m":-0.15},

{"s":"ROCAM.10","ph":"PP","snr":"SNR=1.1","ang":"248°, 95°","e":"-8","lo":-2.35,"hi":2.65},
{"s":"ROCAM.10","t":-9.3,"d":0},{"s":"ROCAM.10","t":-3,"d":0.3},{"s":"ROCAM.10","t":0,"d":-1.0},{"s":"ROCAM.10","t":2.5,"d":1.0},{"s":"ROCAM.10","t":5.3,"d":-5.2},{"s":"ROCAM.10","t":9,"d":-0.5},{"s":"ROCAM.10","t":13.5,"d":5.6},{"s":"ROCAM.10","t":17,"d":-0.5},{"s":"ROCAM.10","t":20.5,"d":-1.6},{"s":"ROCAM.10","t":25,"d":1.0},{"s":"ROCAM.10","t":29,"d":-1.2},{"s":"ROCAM.10","t":33,"d":2.5},{"s":"ROCAM.10","t":37,"d":-0.6},{"s":"ROCAM.10","t":41,"d":1.5},{"s":"ROCAM.10","t":45,"d":-1.5},{"s":"ROCAM.10","t":48,"d":0.5},{"s":"ROCAM.10","t":52,"d":-3.8},{"s":"ROCAM.10","t":56,"d":1.0},{"s":"ROCAM.10","t":60,"d":-0.5},{"s":"ROCAM.10","t":63,"d":5.0},{"s":"ROCAM.10","t":67,"d":-1.5},{"s":"ROCAM.10","t":72,"d":4.0},{"s":"ROCAM.10","t":76,"d":-2.5},{"s":"ROCAM.10","t":80,"d":3.5},{"s":"ROCAM.10","t":84,"d":-3.0},{"s":"ROCAM.10","t":88,"d":1.5},{"s":"ROCAM.10","t":92,"d":-3.5},{"s":"ROCAM.10","t":96,"d":2.5},{"s":"ROCAM.10","t":100,"d":-2.5},{"s":"ROCAM.10","t":101.8,"d":0},
{"s":"ROCAM.10","t":-9.3,"m":0},{"s":"ROCAM.10","t":15,"m":0},{"s":"ROCAM.10","t":20,"m":0.1},{"s":"ROCAM.10","t":25,"m":0.5},{"s":"ROCAM.10","t":32,"m":-0.3},{"s":"ROCAM.10","t":39,"m":0.6},{"s":"ROCAM.10","t":43,"m":-0.4},{"s":"ROCAM.10","t":48.4,"m":-2.3},{"s":"ROCAM.10","t":55,"m":0.3},{"s":"ROCAM.10","t":61,"m":2.0},{"s":"ROCAM.10","t":65,"m":0.9},{"s":"ROCAM.10","t":70.5,"m":-0.6},{"s":"ROCAM.10","t":80,"m":-0.4},{"s":"ROCAM.10","t":101.8,"m":-0.1},

{"s":"SANVU.00","ph":"P","snr":"SNR=2.5","ang":"152°, 61°","e":"-8","lo":-3.9,"hi":2.94},
{"s":"SANVU.00","t":-9.3,"d":0},{"s":"SANVU.00","t":-3,"d":0},{"s":"SANVU.00","t":2,"d":2.35},{"s":"SANVU.00","t":8.8,"d":2.0},{"s":"SANVU.00","t":15.8,"d":-2.0},{"s":"SANVU.00","t":21,"d":1.5},{"s":"SANVU.00","t":26.3,"d":5.1},{"s":"SANVU.00","t":32,"d":2.0},{"s":"SANVU.00","t":39,"d":-0.8},{"s":"SANVU.00","t":44,"d":-4.0},{"s":"SANVU.00","t":49.5,"d":-8.2},{"s":"SANVU.00","t":55,"d":-3.5},{"s":"SANVU.00","t":62.3,"d":3.9},{"s":"SANVU.00","t":67,"d":5.0},{"s":"SANVU.00","t":72.8,"d":6.1},{"s":"SANVU.00","t":78.6,"d":4.3},{"s":"SANVU.00","t":88,"d":1.2},{"s":"SANVU.00","t":93.7,"d":-2.2},{"s":"SANVU.00","t":98,"d":-1.5},{"s":"SANVU.00","t":101.8,"d":-0.4},
{"s":"SANVU.00","t":-9.3,"m":0},{"s":"SANVU.00","t":8,"m":0},{"s":"SANVU.00","t":11,"m":-0.3},{"s":"SANVU.00","t":15.8,"m":-1.55},{"s":"SANVU.00","t":21,"m":1.5},{"s":"SANVU.00","t":27.4,"m":5.3},{"s":"SANVU.00","t":32,"m":1.5},{"s":"SANVU.00","t":36.7,"m":-2.0},{"s":"SANVU.00","t":41.4,"m":-2.55},{"s":"SANVU.00","t":45,"m":-4.0},{"s":"SANVU.00","t":49.5,"m":-6.7},{"s":"SANVU.00","t":54,"m":-2.0},{"s":"SANVU.00","t":57.7,"m":2.0},{"s":"SANVU.00","t":63.5,"m":6.1},{"s":"SANVU.00","t":70,"m":4.0},{"s":"SANVU.00","t":78.6,"m":1.55},{"s":"SANVU.00","t":85,"m":-0.5},{"s":"SANVU.00","t":92.6,"m":-1.55},{"s":"SANVU.00","t":101.8,"m":-1.0},

{"s":"SOK.00","ph":"PP","snr":"SNR=0.7","ang":"335°, 121°","e":"-8","lo":-1.06,"hi":1.12},
{"s":"SOK.00","t":-9.3,"d":0},{"s":"SOK.00","t":-2,"d":0.1},{"s":"SOK.00","t":4.2,"d":2.4},{"s":"SOK.00","t":8,"d":0.5},{"s":"SOK.00","t":11,"d":-0.7},{"s":"SOK.00","t":14,"d":0.1},{"s":"SOK.00","t":18,"d":-1.05},{"s":"SOK.00","t":24,"d":1.7},{"s":"SOK.00","t":28,"d":-0.3},{"s":"SOK.00","t":31,"d":1.2},{"s":"SOK.00","t":34,"d":-0.6},{"s":"SOK.00","t":38,"d":0.8},{"s":"SOK.00","t":42,"d":1.3},{"s":"SOK.00","t":46,"d":-0.7},{"s":"SOK.00","t":50,"d":0.2},{"s":"SOK.00","t":53,"d":1.4},{"s":"SOK.00","t":57.7,"d":-2.3},{"s":"SOK.00","t":62,"d":0.8},{"s":"SOK.00","t":66,"d":1.6},{"s":"SOK.00","t":70,"d":-0.8},{"s":"SOK.00","t":74,"d":0.2},{"s":"SOK.00","t":78,"d":-0.5},{"s":"SOK.00","t":82,"d":0.6},{"s":"SOK.00","t":85.6,"d":1.2},{"s":"SOK.00","t":90,"d":-1.2},{"s":"SOK.00","t":95,"d":-0.3},{"s":"SOK.00","t":98,"d":-0.9},{"s":"SOK.00","t":101.8,"d":0.4},
{"s":"SOK.00","t":-9.3,"m":0},{"s":"SOK.00","t":12,"m":0},{"s":"SOK.00","t":16,"m":-0.1},{"s":"SOK.00","t":21.6,"m":-0.25},{"s":"SOK.00","t":30,"m":0.5},{"s":"SOK.00","t":38,"m":1.05},{"s":"SOK.00","t":44,"m":-0.3},{"s":"SOK.00","t":49.5,"m":-1.55},{"s":"SOK.00","t":55,"m":-0.6},{"s":"SOK.00","t":60,"m":0.4},{"s":"SOK.00","t":64.6,"m":0.75},{"s":"SOK.00","t":75,"m":0.5},{"s":"SOK.00","t":88,"m":0.1},{"s":"SOK.00","t":101.8,"m":-0.25},

{"s":"SSB.00","ph":"P","snr":"SNR=3.6","ang":"331°, 86°","e":"-8","lo":-2.38,"hi":1.67},
{"s":"SSB.00","t":-9.3,"d":0},{"s":"SSB.00","t":-3,"d":0},{"s":"SSB.00","t":1,"d":0.2},{"s":"SSB.00","t":5.6,"d":0.6},{"s":"SSB.00","t":10,"d":-0.1},{"s":"SSB.00","t":15,"d":0.35},{"s":"SSB.00","t":19,"d":0.1},{"s":"SSB.00","t":25.3,"d":2.5},{"s":"SSB.00","t":31,"d":0.8},{"s":"SSB.00","t":34,"d":0.5},{"s":"SSB.00","t":40,"d":-2.0},{"s":"SSB.00","t":45,"d":-4.9},{"s":"SSB.00","t":51,"d":-0.5},{"s":"SSB.00","t":56.7,"d":2.6},{"s":"SSB.00","t":61,"d":1.0},{"s":"SSB.00","t":66,"d":-0.85},{"s":"SSB.00","t":70,"d":-0.2},{"s":"SSB.00","t":75,"d":0.6},{"s":"SSB.00","t":83.5,"d":-1.45},{"s":"SSB.00","t":89,"d":0},{"s":"SSB.00","t":94,"d":1.9},{"s":"SSB.00","t":101.8,"d":0.35},
{"s":"SSB.00","t":-9.3,"m":0},{"s":"SSB.00","t":10,"m":0},{"s":"SSB.00","t":14,"m":-0.2},{"s":"SSB.00","t":18.4,"m":-0.7},{"s":"SSB.00","t":24,"m":0.8},{"s":"SSB.00","t":30,"m":1.8},{"s":"SSB.00","t":34,"m":1.2},{"s":"SSB.00","t":39,"m":-1.5},{"s":"SSB.00","t":44.6,"m":-4.65},{"s":"SSB.00","t":50,"m":-0.5},{"s":"SSB.00","t":55.6,"m":3.6},{"s":"SSB.00","t":61,"m":1.5},{"s":"SSB.00","t":68.4,"m":-0.5},{"s":"SSB.00","t":80,"m":-0.45},{"s":"SSB.00","t":101.8,"m":-0.1},

{"s":"SSB.10","ph":"P","snr":"SNR=3.1","ang":"331°, 86°","e":"-8","lo":-2.24,"hi":1.76},
{"s":"SSB.10","t":-9.3,"d":0},{"s":"SSB.10","t":-2,"d":0},{"s":"SSB.10","t":1,"d":0.6},{"s":"SSB.10","t":5,"d":0.1},{"s":"SSB.10","t":10,"d":-0.2},{"s":"SSB.10","t":15,"d":0.2},{"s":"SSB.10","t":20,"d":0.1},{"s":"SSB.10","t":25.3,"d":2.2},{"s":"SSB.10","t":30,"d":0.6},{"s":"SSB.10","t":34,"d":0.3},{"s":"SSB.10","t":40,"d":-2.0},{"s":"SSB.10","t":45,"d":-4.7},{"s":"SSB.10","t":51,"d":-0.5},{"s":"SSB.10","t":56.7,"d":2.5},{"s":"SSB.10","t":65,"d":-0.2},{"s":"SSB.10","t":69,"d":-0.6},{"s":"SSB.10","t":75,"d":1.0},{"s":"SSB.10","t":83.5,"d":-1.5},{"s":"SSB.10","t":89,"d":0.2},{"s":"SSB.10","t":94,"d":1.7},{"s":"SSB.10","t":101.8,"d":0.4},
{"s":"SSB.10","t":-9.3,"m":0},{"s":"SSB.10","t":10,"m":0},{"s":"SSB.10","t":14,"m":-0.2},{"s":"SSB.10","t":18.4,"m":-0.7},{"s":"SSB.10","t":24,"m":0.9},{"s":"SSB.10","t":29,"m":1.9},{"s":"SSB.10","t":35,"m":1.0},{"s":"SSB.10","t":39,"m":-1.5},{"s":"SSB.10","t":44.6,"m":-4.6},{"s":"SSB.10","t":50,"m":-0.5},{"s":"SSB.10","t":55.6,"m":3.7},{"s":"SSB.10","t":61,"m":1.5},{"s":"SSB.10","t":68.4,"m":-0.5},{"s":"SSB.10","t":80,"m":-0.4},{"s":"SSB.10","t":101.8,"m":0},

{"s":"TAM.00","ph":"PP","snr":"SNR=1.3","ang":"319°, 104°","e":"-8","lo":-1.72,"hi":1.3},
{"s":"TAM.00","t":-9.3,"d":0},{"s":"TAM.00","t":-3,"d":0},{"s":"TAM.00","t":4,"d":0.3},{"s":"TAM.00","t":9,"d":0.7},{"s":"TAM.00","t":13.5,"d":-0.35},{"s":"TAM.00","t":20,"d":-0.2},{"s":"TAM.00","t":25,"d":0.3},{"s":"TAM.00","t":30,"d":1.7},{"s":"TAM.00","t":34.4,"d":2.5},{"s":"TAM.00","t":40,"d":0.5},{"s":"TAM.00","t":45,"d":-2.0},{"s":"TAM.00","t":50,"d":-3.45},{"s":"TAM.00","t":55,"d":-1.0},{"s":"TAM.00","t":59.5,"d":1.55},{"s":"TAM.00","t":63,"d":1.6},{"s":"TAM.00","t":68.6,"d":-1.65},{"s":"TAM.00","t":73,"d":0},{"s":"TAM.00","t":78,"d":1.3},{"s":"TAM.00","t":86,"d":-0.4},{"s":"TAM.00","t":94.4,"d":1.9},{"s":"TAM.00","t":101.8,"d":1.0},
{"s":"TAM.00","t":-9.3,"m":0},{"s":"TAM.00","t":25,"m":0},{"s":"TAM.00","t":30,"m":0.3},{"s":"TAM.00","t":35,"m":0.9},{"s":"TAM.00","t":38,"m":0.5},{"s":"TAM.00","t":43,"m":-1.0},{"s":"TAM.00","t":49,"m":-2.5},{"s":"TAM.00","t":55,"m":-0.3},{"s":"TAM.00","t":61,"m":1.9},{"s":"TAM.00","t":66,"m":1.0},{"s":"TAM.00","t":71,"m":0.1},{"s":"TAM.00","t":80,"m":-0.35},{"s":"TAM.00","t":101.8,"m":0},

{"s":"TAM.10","ph":"PP","snr":"SNR=1.2","ang":"319°, 104°","e":"-8","lo":-1.33,"hi":1.1},
{"s":"TAM.10","t":-9.3,"d":0},{"s":"TAM.10","t":-3,"d":0},{"s":"TAM.10","t":1.4,"d":-0.35},{"s":"TAM.10","t":6.5,"d":0.85},{"s":"TAM.10","t":11,"d":0.4},{"s":"TAM.10","t":17,"d":0.1},{"s":"TAM.10","t":22,"d":-0.15},{"s":"TAM.10","t":26,"d":0.6},{"s":"TAM.10","t":30,"d":1.65},{"s":"TAM.10","t":34.4,"d":1.9},{"s":"TAM.10","t":40,"d":0.5},{"s":"TAM.10","t":45,"d":-1.5},{"s":"TAM.10","t":49.5,"d":-2.85},{"s":"TAM.10","t":55,"d":0},{"s":"TAM.10","t":61,"d":2.15},{"s":"TAM.10","t":66,"d":1.0},{"s":"TAM.10","t":71,"d":0.3},{"s":"TAM.10","t":77,"d":-0.2},{"s":"TAM.10","t":85.6,"d":-0.65},{"s":"TAM.10","t":92,"d":0.8},{"s":"TAM.10","t":99.5,"d":1.7},{"s":"TAM.10","t":101.8,"d":0.7},
{"s":"TAM.10","t":-9.3,"m":0},{"s":"TAM.10","t":18,"m":0},{"s":"TAM.10","t":22,"m":-0.1},{"s":"TAM.10","t":30,"m":0.15},{"s":"TAM.10","t":34,"m":0.6},{"s":"TAM.10","t":38,"m":1.35},{"s":"TAM.10","t":43,"m":-0.5},{"s":"TAM.10","t":48.8,"m":-2.45},{"s":"TAM.10","t":54,"m":0},{"s":"TAM.10","t":60,"m":1.85},{"s":"TAM.10","t":66,"m":1.0},{"s":"TAM.10","t":71.6,"m":0.15},{"s":"TAM.10","t":81,"m":-0.15},{"s":"TAM.10","t":101.8,"m":0},

{"s":"TAOE.00","ph":"P","snr":"SNR=1.8","ang":"105°, 87°","e":"-7","lo":-2.24,"hi":1.9},
{"s":"TAOE.00","t":-9.3,"d":0},{"s":"TAOE.00","t":-5,"d":0.1},{"s":"TAOE.00","t":0,"d":-0.2},{"s":"TAOE.00","t":3.5,"d":-1.1},{"s":"TAOE.00","t":6.5,"d":0.5},{"s":"TAOE.00","t":9.3,"d":-2.2},{"s":"TAOE.00","t":12.3,"d":2.4},{"s":"TAOE.00","t":14.7,"d":-2.9},{"s":"TAOE.00","t":17,"d":4.1},{"s":"TAOE.00","t":20,"d":-3.2},{"s":"TAOE.00","t":22.8,"d":3.4},{"s":"TAOE.00","t":25,"d":-3.8},{"s":"TAOE.00","t":27.4,"d":2.4},{"s":"TAOE.00","t":29.8,"d":-3.7},{"s":"TAOE.00","t":32,"d":1.95},{"s":"TAOE.00","t":35,"d":-2.4},{"s":"TAOE.00","t":38,"d":1.2},{"s":"TAOE.00","t":41,"d":-1.5},{"s":"TAOE.00","t":43.7,"d":1.5},{"s":"TAOE.00","t":46,"d":-2.2},{"s":"TAOE.00","t":48.4,"d":2.2},{"s":"TAOE.00","t":51,"d":-2.9},{"s":"TAOE.00","t":54.2,"d":2.4},{"s":"TAOE.00","t":56.5,"d":-2.4},{"s":"TAOE.00","t":58.8,"d":2.9},{"s":"TAOE.00","t":61.6,"d":-2.9},{"s":"TAOE.00","t":64.6,"d":2.7},{"s":"TAOE.00","t":67.7,"d":-3.4},{"s":"TAOE.00","t":70.5,"d":3.2},{"s":"TAOE.00","t":72.8,"d":-4.6},{"s":"TAOE.00","t":75,"d":3.2},{"s":"TAOE.00","t":78,"d":-2.9},{"s":"TAOE.00","t":81,"d":2.4},{"s":"TAOE.00","t":83.3,"d":-2.7},{"s":"TAOE.00","t":85.6,"d":2.7},{"s":"TAOE.00","t":88.6,"d":-2.7},{"s":"TAOE.00","t":91.4,"d":2.9},{"s":"TAOE.00","t":93.7,"d":-2.4},{"s":"TAOE.00","t":96,"d":1.95},{"s":"TAOE.00","t":99.5,"d":-1.2},{"s":"TAOE.00","t":101.8,"d":1.0},
{"s":"TAOE.00","t":-9.3,"m":0},{"s":"TAOE.00","t":4,"m":0},{"s":"TAOE.00","t":9,"m":-0.35},{"s":"TAOE.00","t":14,"m":0.3},{"s":"TAOE.00","t":20.5,"m":0.85},{"s":"TAOE.00","t":27,"m":0.1},{"s":"TAOE.00","t":33,"m":-0.3},{"s":"TAOE.00","t":40,"m":-0.6},{"s":"TAOE.00","t":47,"m":0},{"s":"TAOE.00","t":56.5,"m":0.6},{"s":"TAOE.00","t":62,"m":0.4},{"s":"TAOE.00","t":67,"m":0.1},{"s":"TAOE.00","t":75,"m":0},{"s":"TAOE.00","t":101.8,"m":0},

{"s":"UNM.00","ph":"PP","snr":"SNR=1.2","ang":"56°, 97°","e":"-8","lo":-2.2,"hi":1.95},
{"s":"UNM.00","t":-9.3,"d":0},{"s":"UNM.00","t":-2,"d":0},{"s":"UNM.00","t":0,"d":1.5},{"s":"UNM.00","t":2,"d":3.9},{"s":"UNM.00","t":4.4,"d":1.35},{"s":"UNM.00","t":9,"d":1.6},{"s":"UNM.00","t":13.7,"d":0.7},{"s":"UNM.00","t":18.4,"d":-1.35},{"s":"UNM.00","t":24.2,"d":-4.6},{"s":"UNM.00","t":30,"d":0.1},{"s":"UNM.00","t":35.3,"d":3.9},{"s":"UNM.00","t":40.5,"d":1.35},{"s":"UNM.00","t":45,"d":-0.85},{"s":"UNM.00","t":50,"d":0.5},{"s":"UNM.00","t":56.7,"d":0.85},{"s":"UNM.00","t":61.4,"d":-2.8},{"s":"UNM.00","t":66,"d":-1.0},{"s":"UNM.00","t":73,"d":2.1},{"s":"UNM.00","t":80,"d":0.35},{"s":"UNM.00","t":84.6,"d":-1.1},{"s":"UNM.00","t":87,"d":-0.6},{"s":"UNM.00","t":91.6,"d":-1.5},{"s":"UNM.00","t":101.8,"d":2.8},
{"s":"UNM.00","t":-9.3,"m":0},{"s":"UNM.00","t":10,"m":0},{"s":"UNM.00","t":16,"m":0.5},{"s":"UNM.00","t":20,"m":-0.5},{"s":"UNM.00","t":25,"m":-1.6},{"s":"UNM.00","t":30,"m":0.5},{"s":"UNM.00","t":35.3,"m":2.3},{"s":"UNM.00","t":40.5,"m":1.35},{"s":"UNM.00","t":46,"m":2.45},{"s":"UNM.00","t":52,"m":-1.5},{"s":"UNM.00","t":59,"m":-4.5},{"s":"UNM.00","t":64,"m":-2.0},{"s":"UNM.00","t":68.4,"m":0.35},{"s":"UNM.00","t":77.7,"m":2.2},{"s":"UNM.00","t":90,"m":1.2},{"s":"UNM.00","t":101.8,"m":0}
]},
"config": {
  "view": {"stroke": "#404040", "strokeWidth": 2},
  "axis": {"grid": false, "domain": false, "labelFont": "Liberation Sans", "labelFontSize": 28, "labelColor": "#262626", "tickColor": "#404040", "tickWidth": 2, "tickSize": -6, "labelOverlap": false, "labelFlush": false, "labelBound": false},
  "axisX": {"tickCount": 3, "labelPadding": 21},
  "axisY": {"tickCount": 3.5, "tickMinStep": 1, "labelPadding": 23},
  "header": {"labels": false, "title": null, "labelPadding": 0, "titlePadding": 0, "labelFontSize": 0}
},
"spacing": 1,
"vconcat": [
{
  "data": {"name": "all"},
  "transform": [{"filter": "datum.s != 'UNM.00'"}],
  "columns": 5,
  "bounds": "flush",
  "spacing": {"row": 89, "column": 119},
  "facet": {"field": "s", "type": "nominal", "header": {"labels": false, "title": null}, "title": null},
  "resolve": {"scale": {"y": "independent"}, "axis": {"x": "independent", "y": "independent"}},
  "spec": {
    "width": 350, "height": 125,
    "resolve": {"scale": {"y": "independent"}},
    "layer": [
      {"layer": [
        {"transform": [{"filter": "isValid(datum.d)"}],
         "mark": {"type": "line", "color": "#595959", "strokeWidth": 6.5, "interpolate": "monotone", "clip": true},
         "encoding": {"x": {"field": "t", "type": "quantitative", "title": null, "scale": {"domain": [-9.3, 101.8], "nice": false}},
                      "y": {"field": "d", "type": "quantitative", "title": null, "scale": {"zero": false, "nice": false, "padding": 4}}}},
        {"transform": [{"filter": "isValid(datum.m)"}],
         "mark": {"type": "line", "color": "#ff0000", "strokeWidth": 8, "interpolate": "monotone", "clip": true},
         "encoding": {"x": {"field": "t", "type": "quantitative", "title": null, "scale": {"domain": [-9.3, 101.8], "nice": false}},
                      "y": {"field": "m", "type": "quantitative", "title": null, "scale": {"zero": false, "nice": false, "padding": 4}}}},
        {"transform": [{"filter": "isValid(datum.lo)"}],
         "mark": {"type": "rule", "color": "#0000ff", "strokeWidth": 7},
         "encoding": {"x": {"datum": 68.5, "type": "quantitative"},
                      "y": {"field": "lo", "type": "quantitative", "title": null},
                      "y2": {"field": "hi"}}}
      ]},
      {"transform": [{"filter": "isValid(datum.ph)"}],
       "layer": [
        {"mark": {"type": "text", "align": "left", "baseline": "middle", "font": "Liberation Sans", "fontSize": 31, "color": "#000000"},
         "encoding": {"x": {"datum": 1.2, "type": "quantitative"}, "y": {"datum": 0.707, "type": "quantitative", "scale": {"domain": [0, 1]}, "axis": null}, "text": {"field": "ph"}}},
        {"mark": {"type": "text", "align": "left", "baseline": "middle", "font": "Liberation Sans", "fontSize": 31, "color": "#000000"},
         "encoding": {"x": {"datum": 57.7, "type": "quantitative"}, "y": {"datum": 0.79, "type": "quantitative", "scale": {"domain": [0, 1]}, "axis": null}, "text": {"field": "s"}}},
        {"mark": {"type": "text", "align": "left", "baseline": "middle", "font": "Liberation Serif", "fontSize": 25, "color": "#000000"},
         "encoding": {"x": {"datum": 0.8, "type": "quantitative"}, "y": {"datum": 0.178, "type": "quantitative", "scale": {"domain": [0, 1]}, "axis": null}, "text": {"field": "snr"}}},
        {"mark": {"type": "text", "align": "left", "baseline": "middle", "font": "Liberation Serif", "fontSize": 31, "color": "#000000"},
         "encoding": {"x": {"datum": 57.7, "type": "quantitative"}, "y": {"datum": 0.19, "type": "quantitative", "scale": {"domain": [0, 1]}, "axis": null}, "text": {"field": "ang"}}},
        {"mark": {"type": "text", "align": "left", "baseline": "alphabetic", "font": "Liberation Sans", "fontSize": 29, "color": "#262626"},
         "encoding": {"x": {"datum": -7.7, "type": "quantitative"}, "y": {"datum": 1.07, "type": "quantitative", "scale": {"domain": [0, 1]}, "axis": null}, "text": {"value": "× 10"}}},
        {"mark": {"type": "text", "align": "left", "baseline": "alphabetic", "font": "Liberation Sans", "fontSize": 21, "color": "#262626"},
         "encoding": {"x": {"datum": 14.8, "type": "quantitative"}, "y": {"datum": 1.206, "type": "quantitative", "scale": {"domain": [0, 1]}, "axis": null}, "text": {"field": "e"}}}
      ]}
    ]
  }
},
{
  "spacing": 1509,
  "hconcat": [
  {
    "data": {"name": "all"},
    "transform": [{"filter": "datum.s == 'UNM.00'"}],
    "width": 350, "height": 125,
    "resolve": {"scale": {"y": "independent"}},
    "layer": [
      {"layer": [
        {"transform": [{"filter": "isValid(datum.d)"}],
         "mark": {"type": "line", "color": "#595959", "strokeWidth": 6.5, "interpolate": "monotone", "clip": true},
         "encoding": {"x": {"field": "t", "type": "quantitative", "title": null, "scale": {"domain": [-9.3, 101.8], "nice": false}},
                      "y": {"field": "d", "type": "quantitative", "title": null, "scale": {"zero": false, "nice": false, "padding": 4}}}},
        {"transform": [{"filter": "isValid(datum.m)"}],
         "mark": {"type": "line", "color": "#ff0000", "strokeWidth": 8, "interpolate": "monotone", "clip": true},
         "encoding": {"x": {"field": "t", "type": "quantitative", "title": null, "scale": {"domain": [-9.3, 101.8], "nice": false}},
                      "y": {"field": "m", "type": "quantitative", "title": null, "scale": {"zero": false, "nice": false, "padding": 4}}}},
        {"transform": [{"filter": "isValid(datum.lo)"}],
         "mark": {"type": "rule", "color": "#0000ff", "strokeWidth": 7},
         "encoding": {"x": {"datum": 68.5, "type": "quantitative"},
                      "y": {"field": "lo", "type": "quantitative", "title": null},
                      "y2": {"field": "hi"}}}
      ]},
      {"transform": [{"filter": "isValid(datum.ph)"}],
       "layer": [
        {"mark": {"type": "text", "align": "left", "baseline": "middle", "font": "Liberation Sans", "fontSize": 31, "color": "#000000"},
         "encoding": {"x": {"datum": 1.2, "type": "quantitative"}, "y": {"datum": 0.707, "type": "quantitative", "scale": {"domain": [0, 1]}, "axis": null}, "text": {"field": "ph"}}},
        {"mark": {"type": "text", "align": "left", "baseline": "middle", "font": "Liberation Sans", "fontSize": 31, "color": "#000000"},
         "encoding": {"x": {"datum": 57.7, "type": "quantitative"}, "y": {"datum": 0.79, "type": "quantitative", "scale": {"domain": [0, 1]}, "axis": null}, "text": {"field": "s"}}},
        {"mark": {"type": "text", "align": "left", "baseline": "middle", "font": "Liberation Serif", "fontSize": 25, "color": "#000000"},
         "encoding": {"x": {"datum": 0.8, "type": "quantitative"}, "y": {"datum": 0.178, "type": "quantitative", "scale": {"domain": [0, 1]}, "axis": null}, "text": {"field": "snr"}}},
        {"mark": {"type": "text", "align": "left", "baseline": "middle", "font": "Liberation Serif", "fontSize": 31, "color": "#000000"},
         "encoding": {"x": {"datum": 57.7, "type": "quantitative"}, "y": {"datum": 0.19, "type": "quantitative", "scale": {"domain": [0, 1]}, "axis": null}, "text": {"field": "ang"}}},
        {"mark": {"type": "text", "align": "left", "baseline": "alphabetic", "font": "Liberation Sans", "fontSize": 29, "color": "#262626"},
         "encoding": {"x": {"datum": -7.7, "type": "quantitative"}, "y": {"datum": 1.07, "type": "quantitative", "scale": {"domain": [0, 1]}, "axis": null}, "text": {"value": "× 10"}}},
        {"mark": {"type": "text", "align": "left", "baseline": "alphabetic", "font": "Liberation Sans", "fontSize": 21, "color": "#262626"},
         "encoding": {"x": {"datum": 14.8, "type": "quantitative"}, "y": {"datum": 1.206, "type": "quantitative", "scale": {"domain": [0, 1]}, "axis": null}, "text": {"field": "e"}}}
      ]}
    ]
  },
  {
    "data": {"values": [{}]},
    "width": 300, "height": 125,
    "view": {"stroke": null},
    "layer": [
      {"mark": {"type": "text", "align": "left", "baseline": "alphabetic", "font": "Liberation Sans", "fontSize": 28.5, "lineHeight": 25.3, "color": "#000000"},
       "encoding": {
         "x": {"datum": 0, "type": "quantitative", "scale": {"domain": [0, 1]}, "axis": null},
         "y": {"datum": 0.92, "type": "quantitative", "scale": {"domain": [0, 1]}, "axis": null},
         "text": {"value": ["Type = P waves", "Black=Data", "Red=Model", "Y = Displacement(m)"]}}},
      {"mark": {"type": "text", "align": "left", "baseline": "alphabetic", "font": "Liberation Sans", "fontSize": 28.5, "color": "#000000"},
       "encoding": {
         "x": {"datum": 0.133, "type": "quantitative", "scale": {"domain": [0, 1]}, "axis": null},
         "y": {"datum": 0.1104, "type": "quantitative", "scale": {"domain": [0, 1]}, "axis": null},
         "text": {"value": "[0.012Hz 0.04Hz]"}}},
      {"mark": {"type": "text", "align": "left", "baseline": "alphabetic", "font": "Liberation Sans", "fontSize": 28.5, "color": "#000000"},
       "encoding": {
         "x": {"datum": 0, "type": "quantitative", "scale": {"domain": [0, 1]}, "axis": null},
         "y": {"datum": -0.092, "type": "quantitative", "scale": {"domain": [0, 1]}, "axis": null},
         "text": {"value": "X = Time(s)"}}}
    ]
  }
  ]
}
]
}
